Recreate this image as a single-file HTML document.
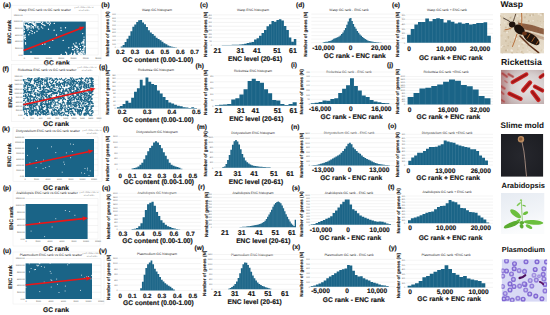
<!DOCTYPE html>
<html><head><meta charset="utf-8"><style>
html,body{margin:0;padding:0;background:#fff;}
svg{display:block;font-family:"Liberation Sans", sans-serif;text-rendering:geometricPrecision;}
</style></head><body>
<svg xmlns="http://www.w3.org/2000/svg" width="550" height="315" viewBox="0 0 550 315">
<rect width="550" height="315" fill="#fff"/>
<rect x="11.4" y="5.2" width="89.6" height="55.099999999999994" fill="none" stroke="#ececec" stroke-width="0.5"/>
<text x="2.90" y="7.00" font-size="6.5" font-weight="bold" text-anchor="start" fill="#111" stroke="#111" stroke-width="0.14">(a)</text>
<text x="44.70" y="10.50" font-size="3.35" font-weight="normal" text-anchor="middle" fill="#333">Wasp ENC rank vs GC rank scatter</text>
<text x="84.00" y="8.20" font-size="2.0" font-weight="normal" text-anchor="middle" fill="#777">y = 0.7026x + 2857.4</text>
<text x="84.00" y="10.80" font-size="2.0" font-weight="normal" text-anchor="middle" fill="#777">R² = 0.4365</text>
<g stroke="#e4e4e4" stroke-width="0.4"><line x1="23.60" y1="14.70" x2="98.20" y2="14.70"/><line x1="23.60" y1="21.42" x2="98.20" y2="21.42"/><line x1="23.60" y1="28.13" x2="98.20" y2="28.13"/><line x1="23.60" y1="34.85" x2="98.20" y2="34.85"/><line x1="23.60" y1="41.57" x2="98.20" y2="41.57"/><line x1="23.60" y1="48.28" x2="98.20" y2="48.28"/><line x1="23.60" y1="55.00" x2="98.20" y2="55.00"/></g>
<text x="22.80" y="15.50" font-size="2.2" font-weight="normal" text-anchor="end" fill="#555555">12000.00</text>
<text x="22.80" y="22.22" font-size="2.2" font-weight="normal" text-anchor="end" fill="#555555">10000.00</text>
<text x="22.80" y="28.93" font-size="2.2" font-weight="normal" text-anchor="end" fill="#555555">8000.00</text>
<text x="22.80" y="35.65" font-size="2.2" font-weight="normal" text-anchor="end" fill="#555555">6000.00</text>
<text x="22.80" y="42.37" font-size="2.2" font-weight="normal" text-anchor="end" fill="#555555">4000.00</text>
<text x="22.80" y="49.08" font-size="2.2" font-weight="normal" text-anchor="end" fill="#555555">2000.00</text>
<text x="22.80" y="55.80" font-size="2.2" font-weight="normal" text-anchor="end" fill="#555555">0.00</text>
<line x1="98.2" y1="14.7" x2="98.2" y2="55" stroke="#e4e4e4" stroke-width="0.4"/>
<text x="24.30" y="58.60" font-size="2.2" font-weight="normal" text-anchor="middle" fill="#555555">0</text>
<text x="36.60" y="58.60" font-size="2.2" font-weight="normal" text-anchor="middle" fill="#555555">5000</text>
<text x="48.90" y="58.60" font-size="2.2" font-weight="normal" text-anchor="middle" fill="#555555">10000</text>
<text x="61.20" y="58.60" font-size="2.2" font-weight="normal" text-anchor="middle" fill="#555555">15000</text>
<text x="73.50" y="58.60" font-size="2.2" font-weight="normal" text-anchor="middle" fill="#555555">20000</text>
<text x="85.80" y="58.60" font-size="2.2" font-weight="normal" text-anchor="middle" fill="#555555">25000</text>
<text x="98.20" y="58.60" font-size="2.2" font-weight="normal" text-anchor="middle" fill="#555555">30000</text>
<rect x="23.6" y="21.6" width="62.199999999999996" height="33.4" fill="#1a6487"/>
<path d="M24.0 22.3h0M25.3 22.1h0M26.5 21.9h0M27.4 22.0h0M28.9 22.0h0M30.0 22.4h0M31.0 22.4h0M32.4 22.1h0M33.2 22.1h0M35.7 22.2h0M36.8 22.0h0M37.8 22.3h0M39.0 22.2h0M40.2 22.3h0M42.6 22.2h0M46.3 22.0h0M49.5 21.9h0M24.1 23.3h0M28.7 23.3h0M32.1 23.2h0M33.4 23.4h0M34.3 23.3h0M35.7 23.6h0M41.6 23.5h0M47.2 23.1h0M48.2 23.2h0M50.4 23.2h0M54.3 23.4h0M24.3 24.5h0M26.3 24.6h0M33.4 24.4h0M34.3 24.4h0M35.8 24.7h0M42.4 24.3h0M43.8 24.7h0M49.6 24.7h0M25.2 25.5h0M26.5 25.5h0M27.4 25.8h0M28.8 25.7h0M31.3 25.6h0M34.5 25.5h0M35.8 25.5h0M44.9 25.5h0M26.7 26.7h0M27.9 26.9h0M28.7 26.8h0M29.8 26.7h0M32.3 26.7h0M33.3 26.8h0M35.9 26.9h0M37.9 26.5h0M41.4 27.0h0M23.9 28.0h0M26.5 28.1h0M27.8 27.9h0M31.1 28.0h0M33.5 28.0h0M37.8 27.7h0M42.7 28.1h0M60.9 27.9h0M65.5 27.7h0M24.3 29.3h0M28.8 29.1h0M38.9 29.0h0M48.5 29.2h0M27.8 30.1h0M31.1 30.4h0M54.1 30.2h0M61.1 30.4h0M24.4 31.6h0M32.3 31.4h0M37.0 31.2h0M24.0 32.5h0M29.7 32.6h0M34.5 32.7h0M32.1 33.6h0M82.7 33.6h0M25.3 35.0h0M28.8 34.8h0M56.5 35.0h0M24.0 35.7h0M24.3 37.3h0M25.4 37.2h0M84.0 37.1h0M24.1 38.3h0M25.3 39.2h0M84.0 39.5h0M52.7 40.4h0M63.2 40.4h0M84.0 40.6h0M83.0 41.5h0M83.8 41.8h0M25.5 42.8h0M76.1 43.0h0M81.5 43.0h0M82.7 42.8h0M83.9 42.8h0M25.6 44.0h0M42.4 44.2h0M44.9 44.0h0M73.5 43.9h0M79.4 44.0h0M83.9 43.9h0M74.8 45.1h0M82.9 45.4h0M75.0 46.3h0M75.8 46.3h0M77.0 46.3h0M80.4 46.4h0M84.1 46.3h0M84.9 46.5h0M49.6 47.4h0M68.8 47.7h0M72.3 47.3h0M76.1 47.6h0M77.3 47.5h0M84.1 47.5h0M74.7 48.6h0M78.4 48.6h0M80.5 48.9h0M83.9 48.5h0M72.5 49.5h0M73.8 49.8h0M77.0 49.8h0M80.5 49.6h0M82.7 49.5h0M84.1 49.6h0M78.0 51.2h0M81.7 51.2h0M83.9 50.9h0M31.0 52.0h0M65.7 52.2h0M74.6 51.9h0M77.1 52.0h0M78.0 51.8h0M80.3 52.1h0M82.9 52.0h0M83.7 51.8h0M66.6 53.2h0M71.5 53.3h0M74.6 53.4h0M78.3 53.4h0M79.3 53.1h0M80.5 53.1h0M81.5 53.3h0M82.9 53.1h0M84.2 53.1h0M61.2 54.5h0M66.7 54.6h0M70.1 54.6h0M71.4 54.3h0M73.8 54.3h0M74.5 54.5h0M75.8 54.3h0M78.3 54.2h0M79.5 54.5h0M80.3 54.2h0M81.7 54.3h0M82.9 54.5h0M85.0 54.2h0" stroke="#fff" stroke-width="1.36" stroke-linecap="round" fill="none"/>
<line x1="23.60" y1="50.40" x2="79.75" y2="28.68" stroke="#ee1515" stroke-width="1.6"/>
<polygon fill="#ee1515" points="84.60,26.80 80.51,30.63 78.99,26.72"/>
<text transform="translate(9.10,31.80) rotate(-90)" font-size="5.2" font-weight="bold" text-anchor="middle" fill="#222" stroke="#222" stroke-width="0.12" dy="1.82">ENC rank</text>
<text x="56.80" y="64.90" font-size="6.7" font-weight="bold" text-anchor="middle" fill="#111" stroke="#111" stroke-width="0.14">GC rank</text>
<text x="101.30" y="7.10" font-size="6.5" font-weight="bold" text-anchor="start" fill="#111" stroke="#111" stroke-width="0.14">(b)</text>
<text x="157.00" y="11.00" font-size="3.35" font-weight="normal" text-anchor="middle" fill="#333">Wasp GC histogram</text>
<g stroke="#e4e4e4" stroke-width="0.4"><line x1="116.70" y1="14.30" x2="201.00" y2="14.30"/><line x1="116.70" y1="17.98" x2="201.00" y2="17.98"/><line x1="116.70" y1="21.66" x2="201.00" y2="21.66"/><line x1="116.70" y1="25.33" x2="201.00" y2="25.33"/><line x1="116.70" y1="29.01" x2="201.00" y2="29.01"/><line x1="116.70" y1="32.69" x2="201.00" y2="32.69"/><line x1="116.70" y1="36.37" x2="201.00" y2="36.37"/><line x1="116.70" y1="40.04" x2="201.00" y2="40.04"/><line x1="116.70" y1="43.72" x2="201.00" y2="43.72"/><line x1="116.70" y1="47.40" x2="201.00" y2="47.40"/></g>
<text x="115.80" y="15.10" font-size="2.1" font-weight="normal" text-anchor="end" fill="#555555">900</text>
<text x="115.80" y="18.78" font-size="2.1" font-weight="normal" text-anchor="end" fill="#555555">800</text>
<text x="115.80" y="22.46" font-size="2.1" font-weight="normal" text-anchor="end" fill="#555555">700</text>
<text x="115.80" y="26.13" font-size="2.1" font-weight="normal" text-anchor="end" fill="#555555">600</text>
<text x="115.80" y="29.81" font-size="2.1" font-weight="normal" text-anchor="end" fill="#555555">500</text>
<text x="115.80" y="33.49" font-size="2.1" font-weight="normal" text-anchor="end" fill="#555555">400</text>
<text x="115.80" y="37.17" font-size="2.1" font-weight="normal" text-anchor="end" fill="#555555">300</text>
<text x="115.80" y="40.84" font-size="2.1" font-weight="normal" text-anchor="end" fill="#555555">200</text>
<text x="115.80" y="44.52" font-size="2.1" font-weight="normal" text-anchor="end" fill="#555555">100</text>
<text x="115.80" y="48.20" font-size="2.1" font-weight="normal" text-anchor="end" fill="#555555">0</text>
<path d="M120.70,47.40V46.59H122.64V44.91H124.59V42.01H126.53V38.87H128.47V35.64H130.42V31.28H132.36V26.84H134.30V24.50H136.25V21.95H138.19V20.20H140.13V20.11H142.08V22.47H144.02V24.28H145.96V27.02H147.91V30.17H149.85V32.42H151.79V33.90H153.74V35.71H155.68V37.65H157.62V39.09H159.57V40.33H161.51V41.65H163.45V43.16H165.40V44.32H167.34V45.54H169.28V46.28H171.23V46.87H173.17V47.09H175.11V47.30H177.06V47.40H179.00V47.40Z" fill="#1a6487"/>
<path d="M122.64,46.59V47.40M124.59,44.91V47.40M126.53,42.01V47.40M128.47,38.87V47.40M130.42,35.64V47.40M132.36,31.28V47.40M134.30,26.84V47.40M136.25,24.50V47.40M138.19,21.95V47.40M140.13,20.20V47.40M142.08,22.47V47.40M144.02,24.28V47.40M145.96,27.02V47.40M147.91,30.17V47.40M149.85,32.42V47.40M151.79,33.90V47.40M153.74,35.71V47.40M155.68,37.65V47.40M157.62,39.09V47.40M159.57,40.33V47.40M161.51,41.65V47.40M163.45,43.16V47.40M165.40,44.32V47.40M167.34,45.54V47.40M169.28,46.28V47.40M171.23,46.87V47.40M173.17,47.09V47.40M175.11,47.30V47.40M177.06,47.40V47.40" stroke="#fff" stroke-width="0.3" stroke-opacity="0.3"/>
<text x="120.40" y="54.12" font-size="6.2" font-weight="bold" text-anchor="middle" fill="#111" stroke="#111" stroke-width="0.14">0.2</text>
<text x="135.00" y="54.12" font-size="6.2" font-weight="bold" text-anchor="middle" fill="#111" stroke="#111" stroke-width="0.14">0.3</text>
<text x="149.70" y="54.12" font-size="6.2" font-weight="bold" text-anchor="middle" fill="#111" stroke="#111" stroke-width="0.14">0.4</text>
<text x="164.90" y="54.12" font-size="6.2" font-weight="bold" text-anchor="middle" fill="#111" stroke="#111" stroke-width="0.14">0.5</text>
<text x="180.40" y="54.12" font-size="6.2" font-weight="bold" text-anchor="middle" fill="#111" stroke="#111" stroke-width="0.14">0.6</text>
<text x="194.60" y="54.12" font-size="6.2" font-weight="bold" text-anchor="middle" fill="#111" stroke="#111" stroke-width="0.14">0.7</text>
<text x="157.90" y="61.70" font-size="6.7" font-weight="bold" text-anchor="middle" fill="#111" stroke="#111" stroke-width="0.14">GC content (0.00-1.00)</text>
<text transform="translate(107.20,33.95) rotate(-90)" font-size="4.6" font-weight="bold" text-anchor="middle" fill="#222" stroke="#222" stroke-width="0.12" dy="1.61">Number of genes (N)</text>
<text x="200.00" y="7.20" font-size="6.5" font-weight="bold" text-anchor="start" fill="#111" stroke="#111" stroke-width="0.14">(c)</text>
<text x="253.00" y="11.00" font-size="3.35" font-weight="normal" text-anchor="middle" fill="#333">Wasp ENC histogram</text>
<g stroke="#e4e4e4" stroke-width="0.4"><line x1="212.80" y1="14.90" x2="300.00" y2="14.90"/><line x1="212.80" y1="18.69" x2="300.00" y2="18.69"/><line x1="212.80" y1="22.48" x2="300.00" y2="22.48"/><line x1="212.80" y1="26.26" x2="300.00" y2="26.26"/><line x1="212.80" y1="30.05" x2="300.00" y2="30.05"/><line x1="212.80" y1="33.84" x2="300.00" y2="33.84"/><line x1="212.80" y1="37.62" x2="300.00" y2="37.62"/><line x1="212.80" y1="41.41" x2="300.00" y2="41.41"/><line x1="212.80" y1="45.20" x2="300.00" y2="45.20"/></g>
<text x="211.90" y="15.70" font-size="2.1" font-weight="normal" text-anchor="end" fill="#555555">400</text>
<text x="211.90" y="19.49" font-size="2.1" font-weight="normal" text-anchor="end" fill="#555555">350</text>
<text x="211.90" y="23.28" font-size="2.1" font-weight="normal" text-anchor="end" fill="#555555">300</text>
<text x="211.90" y="27.06" font-size="2.1" font-weight="normal" text-anchor="end" fill="#555555">250</text>
<text x="211.90" y="30.85" font-size="2.1" font-weight="normal" text-anchor="end" fill="#555555">200</text>
<text x="211.90" y="34.64" font-size="2.1" font-weight="normal" text-anchor="end" fill="#555555">150</text>
<text x="211.90" y="38.42" font-size="2.1" font-weight="normal" text-anchor="end" fill="#555555">100</text>
<text x="211.90" y="42.21" font-size="2.1" font-weight="normal" text-anchor="end" fill="#555555">50</text>
<text x="211.90" y="46.00" font-size="2.1" font-weight="normal" text-anchor="end" fill="#555555">0</text>
<path d="M221.80,45.20V45.07H224.28V45.02H226.77V44.96H229.25V44.91H231.73V44.85H234.22V44.80H236.70V44.74H239.18V44.60H241.67V44.19H244.15V43.70H246.63V42.97H249.12V42.45H251.60V42.04H254.08V39.49H256.57V38.20H259.05V35.70H261.53V32.88H264.02V29.99H266.50V26.30H268.98V24.34H271.47V21.11H273.95V21.87H276.43V20.03H278.92V19.18H281.40V20.53H283.88V25.95H286.37V30.01H288.85V37.42H291.33V41.80H293.82V39.10H296.30V45.20Z" fill="#1a6487"/>
<path d="M224.28,45.07V45.20M226.77,45.02V45.20M229.25,44.96V45.20M231.73,44.91V45.20M234.22,44.85V45.20M236.70,44.80V45.20M239.18,44.74V45.20M241.67,44.60V45.20M244.15,44.19V45.20M246.63,43.70V45.20M249.12,42.97V45.20M251.60,42.45V45.20M254.08,42.04V45.20M256.57,39.49V45.20M259.05,38.20V45.20M261.53,35.70V45.20M264.02,32.88V45.20M266.50,29.99V45.20M268.98,26.30V45.20M271.47,24.34V45.20M273.95,21.87V45.20M276.43,21.87V45.20M278.92,20.03V45.20M281.40,20.53V45.20M283.88,25.95V45.20M286.37,30.01V45.20M288.85,37.42V45.20M291.33,41.80V45.20M293.82,41.80V45.20" stroke="#fff" stroke-width="0.3" stroke-opacity="0.3"/>
<text x="217.50" y="52.91" font-size="7.0" font-weight="bold" text-anchor="middle" fill="#111" stroke="#111" stroke-width="0.14">21</text>
<text x="240.40" y="52.91" font-size="7.0" font-weight="bold" text-anchor="middle" fill="#111" stroke="#111" stroke-width="0.14">31</text>
<text x="256.90" y="52.91" font-size="7.0" font-weight="bold" text-anchor="middle" fill="#111" stroke="#111" stroke-width="0.14">41</text>
<text x="277.10" y="52.91" font-size="7.0" font-weight="bold" text-anchor="middle" fill="#111" stroke="#111" stroke-width="0.14">51</text>
<text x="293.00" y="52.91" font-size="7.0" font-weight="bold" text-anchor="middle" fill="#111" stroke="#111" stroke-width="0.14">61</text>
<text x="255.10" y="60.70" font-size="6.7" font-weight="bold" text-anchor="middle" fill="#111" stroke="#111" stroke-width="0.14">ENC level (20-61)</text>
<text transform="translate(205.00,34.30) rotate(-90)" font-size="4.6" font-weight="bold" text-anchor="middle" fill="#222" stroke="#222" stroke-width="0.12" dy="1.61">Number of genes (N)</text>
<text x="296.00" y="6.90" font-size="6.5" font-weight="bold" text-anchor="start" fill="#111" stroke="#111" stroke-width="0.14">(d)</text>
<text x="349.00" y="11.00" font-size="3.35" font-weight="normal" text-anchor="middle" fill="#333">Wasp GC rank - ENC rank</text>
<g stroke="#e4e4e4" stroke-width="0.4"><line x1="311.30" y1="14.10" x2="404.00" y2="14.10"/><line x1="311.30" y1="17.68" x2="404.00" y2="17.68"/><line x1="311.30" y1="21.25" x2="404.00" y2="21.25"/><line x1="311.30" y1="24.83" x2="404.00" y2="24.83"/><line x1="311.30" y1="28.40" x2="404.00" y2="28.40"/><line x1="311.30" y1="31.98" x2="404.00" y2="31.98"/><line x1="311.30" y1="35.55" x2="404.00" y2="35.55"/><line x1="311.30" y1="39.12" x2="404.00" y2="39.12"/><line x1="311.30" y1="42.70" x2="404.00" y2="42.70"/></g>
<text x="310.40" y="14.90" font-size="2.1" font-weight="normal" text-anchor="end" fill="#555555"></text>
<text x="310.40" y="18.48" font-size="2.1" font-weight="normal" text-anchor="end" fill="#555555"></text>
<text x="310.40" y="22.05" font-size="2.1" font-weight="normal" text-anchor="end" fill="#555555"></text>
<text x="310.40" y="25.63" font-size="2.1" font-weight="normal" text-anchor="end" fill="#555555"></text>
<text x="310.40" y="29.20" font-size="2.1" font-weight="normal" text-anchor="end" fill="#555555"></text>
<text x="310.40" y="32.77" font-size="2.1" font-weight="normal" text-anchor="end" fill="#555555"></text>
<text x="310.40" y="36.35" font-size="2.1" font-weight="normal" text-anchor="end" fill="#555555"></text>
<text x="310.40" y="39.92" font-size="2.1" font-weight="normal" text-anchor="end" fill="#555555"></text>
<text x="310.40" y="43.50" font-size="2.1" font-weight="normal" text-anchor="end" fill="#555555"></text>
<path d="M322.70,42.70V42.29H324.01V42.08H325.32V41.87H326.63V41.65H327.94V41.36H329.24V41.04H330.55V40.59H331.86V39.72H333.17V38.85H334.48V38.29H335.79V37.85H337.10V37.33H338.41V36.48H339.72V35.62H341.02V34.11H342.33V32.38H343.64V30.23H344.95V27.99H346.26V24.83H347.57V21.53H348.88V18.39H350.19V18.02H351.50V20.92H352.80V24.05H354.11V26.68H355.42V28.82H356.73V30.92H358.04V32.86H359.35V34.59H360.66V35.84H361.97V36.99H363.28V38.02H364.58V39.05H365.89V39.74H367.20V40.42H368.51V40.93H369.82V41.22H371.13V41.51H372.44V41.81H373.75V41.98H375.06V42.09H376.36V42.20H377.67V42.32H378.98V42.43H380.29V42.54H381.60V42.70Z" fill="#1a6487"/>
<path d="M324.01,42.29V42.70M325.32,42.08V42.70M326.63,41.87V42.70M327.94,41.65V42.70M329.24,41.36V42.70M330.55,41.04V42.70M331.86,40.59V42.70M333.17,39.72V42.70M334.48,38.85V42.70M335.79,38.29V42.70M337.10,37.85V42.70M338.41,37.33V42.70M339.72,36.48V42.70M341.02,35.62V42.70M342.33,34.11V42.70M343.64,32.38V42.70M344.95,30.23V42.70M346.26,27.99V42.70M347.57,24.83V42.70M348.88,21.53V42.70M350.19,18.39V42.70M351.50,20.92V42.70M352.80,24.05V42.70M354.11,26.68V42.70M355.42,28.82V42.70M356.73,30.92V42.70M358.04,32.86V42.70M359.35,34.59V42.70M360.66,35.84V42.70M361.97,36.99V42.70M363.28,38.02V42.70M364.58,39.05V42.70M365.89,39.74V42.70M367.20,40.42V42.70M368.51,40.93V42.70M369.82,41.22V42.70M371.13,41.51V42.70M372.44,41.81V42.70M373.75,41.98V42.70M375.06,42.09V42.70M376.36,42.20V42.70M377.67,42.32V42.70M378.98,42.43V42.70M380.29,42.54V42.70" stroke="#fff" stroke-width="0.3" stroke-opacity="0.3"/>
<text x="323.40" y="49.76" font-size="6.6" font-weight="bold" text-anchor="middle" fill="#111" stroke="#111" stroke-width="0.14">-10,000</text>
<text x="350.50" y="49.76" font-size="6.6" font-weight="bold" text-anchor="middle" fill="#111" stroke="#111" stroke-width="0.14">0</text>
<text x="381.10" y="49.76" font-size="6.6" font-weight="bold" text-anchor="middle" fill="#111" stroke="#111" stroke-width="0.14">20,000</text>
<text x="354.80" y="57.60" font-size="6.7" font-weight="bold" text-anchor="middle" fill="#111" stroke="#111" stroke-width="0.14">GC rank - ENC rank</text>
<text transform="translate(304.90,34.25) rotate(-90)" font-size="4.6" font-weight="bold" text-anchor="middle" fill="#222" stroke="#222" stroke-width="0.12" dy="1.61">Number of genes (N)</text>
<text x="392.00" y="7.00" font-size="6.5" font-weight="bold" text-anchor="start" fill="#111" stroke="#111" stroke-width="0.14">(e)</text>
<text x="447.00" y="11.00" font-size="3.35" font-weight="normal" text-anchor="middle" fill="#333">Wasp GC rank + ENC rank</text>
<g stroke="#e4e4e4" stroke-width="0.4"><line x1="406.00" y1="14.80" x2="493.00" y2="14.80"/><line x1="406.00" y1="19.45" x2="493.00" y2="19.45"/><line x1="406.00" y1="24.10" x2="493.00" y2="24.10"/><line x1="406.00" y1="28.75" x2="493.00" y2="28.75"/><line x1="406.00" y1="33.40" x2="493.00" y2="33.40"/><line x1="406.00" y1="38.05" x2="493.00" y2="38.05"/><line x1="406.00" y1="42.70" x2="493.00" y2="42.70"/></g>
<text x="405.10" y="15.60" font-size="2.1" font-weight="normal" text-anchor="end" fill="#555555">600</text>
<text x="405.10" y="20.25" font-size="2.1" font-weight="normal" text-anchor="end" fill="#555555">500</text>
<text x="405.10" y="24.90" font-size="2.1" font-weight="normal" text-anchor="end" fill="#555555">400</text>
<text x="405.10" y="29.55" font-size="2.1" font-weight="normal" text-anchor="end" fill="#555555">300</text>
<text x="405.10" y="34.20" font-size="2.1" font-weight="normal" text-anchor="end" fill="#555555">200</text>
<text x="405.10" y="38.85" font-size="2.1" font-weight="normal" text-anchor="end" fill="#555555">100</text>
<text x="405.10" y="43.50" font-size="2.1" font-weight="normal" text-anchor="end" fill="#555555">0</text>
<path d="M407.10,42.70V34.80H410.74V29.00H414.38V24.60H418.02V22.00H421.66V22.00H425.30V18.60H428.94V21.20H432.58V19.10H436.22V18.30H439.86V19.10H443.50V22.50H447.14V20.30H450.78V21.70H454.42V23.40H458.06V22.50H461.70V23.70H465.34V22.90H468.98V24.60H472.62V23.90H476.26V23.00H479.90V23.00H483.54V22.20H487.18V35.70H490.82V42.70Z" fill="#1a6487"/>
<path d="M410.74,34.80V42.70M414.38,29.00V42.70M418.02,24.60V42.70M421.66,22.00V42.70M425.30,22.00V42.70M428.94,21.20V42.70M432.58,21.20V42.70M436.22,19.10V42.70M439.86,19.10V42.70M443.50,22.50V42.70M447.14,22.50V42.70M450.78,21.70V42.70M454.42,23.40V42.70M458.06,23.40V42.70M461.70,23.70V42.70M465.34,23.70V42.70M468.98,24.60V42.70M472.62,24.60V42.70M476.26,23.90V42.70M479.90,23.00V42.70M483.54,23.00V42.70M487.18,35.70V42.70" stroke="#fff" stroke-width="0.3" stroke-opacity="0.3"/>
<text x="409.20" y="50.56" font-size="6.6" font-weight="bold" text-anchor="middle" fill="#111" stroke="#111" stroke-width="0.14">0</text>
<text x="446.40" y="50.56" font-size="6.6" font-weight="bold" text-anchor="middle" fill="#111" stroke="#111" stroke-width="0.14">10,000</text>
<text x="480.10" y="50.56" font-size="6.6" font-weight="bold" text-anchor="middle" fill="#111" stroke="#111" stroke-width="0.14">20,000</text>
<text x="450.80" y="59.50" font-size="6.7" font-weight="bold" text-anchor="middle" fill="#111" stroke="#111" stroke-width="0.14">GC rank + ENC rank</text>
<text transform="translate(397.20,34.30) rotate(-90)" font-size="4.6" font-weight="bold" text-anchor="middle" fill="#222" stroke="#222" stroke-width="0.12" dy="1.61">Number of genes (N)</text>
<rect x="11.4" y="64.5" width="88.6" height="57.0" fill="none" stroke="#ececec" stroke-width="0.5"/>
<text x="2.40" y="70.60" font-size="6.5" font-weight="bold" text-anchor="start" fill="#111" stroke="#111" stroke-width="0.14">(f)</text>
<text x="47.00" y="71.00" font-size="3.35" font-weight="normal" text-anchor="middle" fill="#333">Rickettsia ENC rank vs GC rank scatter</text>
<text x="87.00" y="68.40" font-size="2.0" font-weight="normal" text-anchor="middle" fill="#777">y = 0.7026x + 2857.4</text>
<text x="87.00" y="71.00" font-size="2.0" font-weight="normal" text-anchor="middle" fill="#777">R² = 0.4365</text>
<g stroke="#e4e4e4" stroke-width="0.4"><line x1="23.30" y1="75.80" x2="98.50" y2="75.80"/><line x1="23.30" y1="80.16" x2="98.50" y2="80.16"/><line x1="23.30" y1="84.51" x2="98.50" y2="84.51"/><line x1="23.30" y1="88.87" x2="98.50" y2="88.87"/><line x1="23.30" y1="93.22" x2="98.50" y2="93.22"/><line x1="23.30" y1="97.58" x2="98.50" y2="97.58"/><line x1="23.30" y1="101.93" x2="98.50" y2="101.93"/><line x1="23.30" y1="106.29" x2="98.50" y2="106.29"/><line x1="23.30" y1="110.64" x2="98.50" y2="110.64"/><line x1="23.30" y1="115.00" x2="98.50" y2="115.00"/></g>
<text x="22.50" y="76.60" font-size="2.2" font-weight="normal" text-anchor="end" fill="#555555">1800.00</text>
<text x="22.50" y="80.96" font-size="2.2" font-weight="normal" text-anchor="end" fill="#555555">1600.00</text>
<text x="22.50" y="85.31" font-size="2.2" font-weight="normal" text-anchor="end" fill="#555555">1400.00</text>
<text x="22.50" y="89.67" font-size="2.2" font-weight="normal" text-anchor="end" fill="#555555">1200.00</text>
<text x="22.50" y="94.02" font-size="2.2" font-weight="normal" text-anchor="end" fill="#555555">1000.00</text>
<text x="22.50" y="98.38" font-size="2.2" font-weight="normal" text-anchor="end" fill="#555555">800.00</text>
<text x="22.50" y="102.73" font-size="2.2" font-weight="normal" text-anchor="end" fill="#555555">600.00</text>
<text x="22.50" y="107.09" font-size="2.2" font-weight="normal" text-anchor="end" fill="#555555">400.00</text>
<text x="22.50" y="111.44" font-size="2.2" font-weight="normal" text-anchor="end" fill="#555555">200.00</text>
<text x="22.50" y="115.80" font-size="2.2" font-weight="normal" text-anchor="end" fill="#555555">0.00</text>
<line x1="98.5" y1="75.8" x2="98.5" y2="115" stroke="#e4e4e4" stroke-width="0.4"/>
<text x="23.90" y="119.00" font-size="2.2" font-weight="normal" text-anchor="middle" fill="#555555">0</text>
<text x="32.20" y="119.00" font-size="2.2" font-weight="normal" text-anchor="middle" fill="#555555">200</text>
<text x="40.60" y="119.00" font-size="2.2" font-weight="normal" text-anchor="middle" fill="#555555">400</text>
<text x="49.00" y="119.00" font-size="2.2" font-weight="normal" text-anchor="middle" fill="#555555">600</text>
<text x="57.30" y="119.00" font-size="2.2" font-weight="normal" text-anchor="middle" fill="#555555">800</text>
<text x="65.70" y="119.00" font-size="2.2" font-weight="normal" text-anchor="middle" fill="#555555">1000</text>
<text x="74.00" y="119.00" font-size="2.2" font-weight="normal" text-anchor="middle" fill="#555555">1200</text>
<text x="82.40" y="119.00" font-size="2.2" font-weight="normal" text-anchor="middle" fill="#555555">1400</text>
<text x="90.70" y="119.00" font-size="2.2" font-weight="normal" text-anchor="middle" fill="#555555">1600</text>
<text x="99.00" y="119.00" font-size="2.2" font-weight="normal" text-anchor="middle" fill="#555555">1800</text>
<path d="M74.8 93.3h0M27.2 108.4h0M82.5 110.4h0M24.4 112.1h0M84.6 88.0h0M81.8 91.8h0M49.4 100.3h0M59.8 94.7h0M31.8 104.8h0M84.1 90.0h0M50.1 106.2h0M84.7 113.8h0M59.4 97.9h0M24.8 114.3h0M36.1 81.9h0M80.7 79.1h0M72.4 85.3h0M65.4 99.6h0M72.7 81.9h0M73.7 79.7h0M58.0 96.8h0M31.9 93.2h0M64.9 110.3h0M63.6 106.0h0M81.4 113.2h0M52.9 109.5h0M51.1 113.3h0M47.1 87.0h0M53.9 114.8h0M87.5 108.6h0M27.1 97.4h0M89.0 87.3h0M67.8 91.7h0M28.2 94.2h0M24.8 83.2h0M77.9 113.1h0M80.2 111.2h0M25.7 102.1h0M71.0 88.3h0M88.3 101.3h0M59.9 94.3h0M43.5 89.5h0M31.8 100.3h0M59.4 88.1h0M60.8 83.6h0M32.5 89.0h0M43.6 87.1h0M61.7 109.5h0M63.4 102.4h0M73.2 95.3h0M66.4 95.6h0M40.3 86.3h0M50.2 100.0h0M48.1 110.3h0M62.4 96.4h0M92.7 89.1h0M34.4 80.5h0M54.2 80.3h0M54.2 105.6h0M39.1 114.0h0M34.2 90.6h0M70.8 101.1h0M81.0 97.4h0M75.6 106.5h0M78.5 104.6h0M32.2 110.7h0M77.1 100.0h0M91.0 99.4h0M78.4 110.7h0M50.0 95.0h0M74.1 89.0h0M62.3 92.4h0M78.6 109.9h0M54.5 84.9h0M33.5 99.6h0M29.5 112.5h0M82.6 109.4h0M37.7 94.0h0M24.1 79.8h0M58.3 112.5h0M61.2 115.4h0M59.7 103.7h0M48.4 100.3h0M89.9 103.4h0M30.3 92.0h0M62.8 99.5h0M91.1 96.3h0M67.2 115.4h0M60.6 108.6h0M45.7 114.7h0M59.3 82.1h0M71.8 108.8h0M85.7 93.8h0M43.7 97.2h0M36.5 84.8h0M65.7 91.2h0M68.0 79.6h0M78.7 89.5h0M23.6 89.4h0M64.5 103.1h0M58.3 98.7h0M68.8 97.9h0M63.7 93.4h0M34.3 106.5h0M30.3 84.4h0M81.2 101.0h0M27.7 78.5h0M46.0 104.8h0M35.2 88.0h0M86.8 99.8h0M54.9 92.5h0M85.9 99.8h0M54.2 101.3h0M26.4 112.9h0M45.4 111.7h0M44.6 100.6h0M58.1 113.6h0M50.7 104.9h0M45.0 110.8h0M79.0 87.1h0M48.5 85.0h0M43.7 99.1h0M60.8 92.5h0M27.9 82.6h0M48.0 87.2h0M43.2 86.9h0M70.0 90.8h0M72.9 81.5h0M82.0 82.8h0M82.1 108.2h0M48.1 105.1h0M90.7 85.8h0M58.8 86.5h0M32.5 104.5h0M86.5 100.0h0M40.6 100.8h0M84.6 82.6h0M61.4 88.1h0M50.4 102.7h0M45.1 92.6h0M35.7 109.9h0M69.9 82.1h0M48.7 96.8h0M27.9 89.7h0M32.2 104.9h0M51.7 112.1h0M85.4 110.3h0M42.7 79.1h0M70.0 91.2h0M69.6 104.2h0M82.8 91.2h0M36.1 82.3h0M74.9 104.7h0M26.1 84.1h0M44.6 92.3h0M45.2 101.9h0M82.3 99.4h0M41.2 94.3h0M47.8 78.0h0M77.9 88.7h0M83.3 100.8h0M40.5 82.2h0M38.1 112.3h0M29.4 104.1h0M75.9 109.1h0M29.6 113.5h0M88.7 103.9h0M81.6 101.6h0M27.1 104.2h0M59.3 112.8h0M76.9 79.6h0M79.9 87.8h0M91.4 101.9h0M40.9 80.2h0M52.2 85.6h0M32.9 104.5h0M40.0 87.1h0M54.6 113.1h0M44.3 111.2h0M62.9 90.5h0M61.8 106.5h0M70.2 100.5h0M77.2 109.2h0M43.6 91.5h0M27.5 88.5h0M72.6 94.8h0M46.1 95.6h0M35.1 80.7h0M93.0 106.1h0M73.7 114.8h0M30.9 96.3h0M36.6 98.4h0M87.9 102.2h0M89.0 102.5h0M40.6 83.2h0M77.7 109.5h0M36.4 101.9h0M88.4 84.3h0M81.7 105.8h0M36.3 108.9h0M49.2 98.7h0M81.7 87.0h0M63.2 101.6h0M72.9 111.9h0M58.1 96.7h0M44.4 99.8h0M71.7 84.1h0M91.5 81.4h0M54.2 85.2h0M23.5 109.5h0M78.6 94.0h0M69.8 97.3h0M47.1 94.5h0M81.4 111.9h0M44.1 94.6h0M47.8 85.3h0M46.1 95.3h0M87.2 110.5h0M90.9 101.2h0M27.5 103.4h0M44.2 99.4h0M57.1 102.3h0M47.4 111.2h0M36.6 103.5h0M29.3 102.8h0M64.1 93.6h0M63.0 92.9h0M36.0 111.4h0M31.2 110.3h0M30.0 97.9h0M57.7 98.8h0M63.6 82.2h0M64.7 81.0h0M28.5 94.5h0M62.0 104.8h0M31.4 115.1h0M30.5 109.1h0M35.3 114.0h0M77.8 83.1h0M27.3 86.9h0M24.4 100.3h0M44.4 104.5h0M85.8 101.3h0M62.9 112.4h0M35.1 106.0h0M77.0 103.5h0M31.9 92.0h0M89.9 105.1h0M65.7 81.7h0M79.8 82.2h0M70.8 87.5h0M54.7 109.4h0M31.3 78.8h0M79.6 84.9h0M43.7 103.8h0M33.4 110.8h0M71.8 108.3h0M24.3 90.8h0M58.6 110.7h0M25.8 84.8h0M71.1 92.7h0M34.4 109.7h0M84.7 100.9h0M46.4 86.1h0M64.7 79.6h0M48.7 95.5h0M50.6 91.3h0M64.0 90.5h0M55.6 115.0h0M33.6 103.2h0M42.5 96.8h0M63.3 97.8h0M93.1 79.3h0M77.5 110.7h0M67.8 101.8h0M43.1 107.8h0M89.3 103.6h0M77.0 105.7h0M68.0 91.1h0M51.8 80.3h0M46.0 115.1h0M49.1 87.1h0M47.9 83.1h0M84.5 95.0h0M63.3 89.3h0M28.0 89.3h0M74.4 98.7h0M47.2 112.5h0M28.9 84.7h0M92.7 91.4h0M53.4 110.6h0M57.4 111.7h0M41.4 78.9h0M42.1 104.4h0M51.4 85.5h0M84.0 102.3h0M74.9 114.1h0M28.9 108.4h0M47.3 83.1h0M61.0 110.8h0M88.2 86.0h0M76.0 102.3h0M71.0 90.7h0M52.4 79.7h0M46.8 96.5h0M41.4 95.4h0M88.3 99.2h0M27.2 101.0h0M46.4 81.5h0M33.3 106.8h0M80.5 93.9h0M64.7 98.8h0M65.6 90.4h0M41.4 104.7h0M77.9 89.6h0M92.0 95.0h0M60.1 113.3h0M23.9 95.8h0M77.7 91.6h0M39.3 106.4h0M25.3 83.0h0M58.6 98.8h0M89.4 91.7h0M35.8 105.7h0M34.7 79.1h0M40.4 114.8h0M68.0 90.9h0M55.6 90.1h0M30.9 105.5h0M68.7 93.1h0M27.5 99.2h0M87.9 113.4h0M39.1 87.4h0M53.8 86.7h0M76.7 102.1h0M93.2 86.1h0M34.3 110.4h0M42.1 106.2h0M43.2 90.4h0M85.9 84.1h0M65.3 95.0h0M85.4 85.9h0M48.6 107.2h0M36.1 110.4h0M44.2 78.9h0M91.8 78.4h0M33.9 105.6h0M35.2 103.6h0M47.2 112.4h0M85.3 114.7h0M39.8 107.7h0M26.0 96.9h0M53.6 81.9h0M93.0 89.9h0M31.8 96.3h0M53.4 84.7h0M33.7 105.7h0M31.2 91.3h0M87.9 91.1h0M91.3 111.1h0M42.5 84.6h0M28.1 79.6h0M52.0 98.9h0M24.0 103.8h0M61.5 98.6h0M92.4 110.8h0M51.4 89.9h0M91.7 92.5h0M52.1 83.4h0M23.7 100.8h0M41.2 100.9h0M40.2 85.4h0M82.6 107.4h0M26.8 104.0h0M68.7 98.6h0M91.6 78.0h0M83.3 97.1h0M93.2 86.8h0M75.6 92.2h0M51.0 97.7h0M70.9 90.1h0M61.5 86.4h0M41.9 112.1h0M74.0 97.6h0M38.9 83.3h0M60.5 97.6h0M80.5 86.9h0M81.1 95.3h0M81.5 111.5h0M26.3 92.3h0M80.8 82.6h0M41.0 81.9h0M79.8 97.6h0M29.5 92.8h0M72.2 94.8h0M79.4 106.5h0M71.1 91.8h0M40.0 91.9h0M50.1 78.7h0M63.4 80.2h0M73.8 88.3h0M40.3 109.3h0M68.0 110.2h0M53.0 107.7h0M49.4 79.6h0M49.1 104.7h0M52.0 102.3h0M48.1 92.5h0M88.3 85.2h0M73.3 92.0h0M46.5 80.7h0M50.0 97.7h0M86.7 106.4h0M65.0 95.3h0M82.3 93.6h0M85.9 94.5h0M59.3 108.9h0M75.4 93.1h0M71.1 98.8h0M77.4 82.4h0M28.7 108.7h0M29.5 106.2h0M27.2 103.5h0M57.2 80.1h0M52.7 99.9h0M80.7 110.7h0M46.8 97.4h0M92.8 88.3h0M45.3 87.6h0M62.4 97.2h0M26.9 89.4h0M79.7 110.1h0M37.5 80.0h0M49.6 95.4h0M64.3 91.7h0M37.4 112.5h0M26.9 89.8h0M52.0 99.2h0M42.5 107.9h0M73.3 108.1h0M55.3 113.1h0M85.0 80.2h0M68.2 79.8h0M28.4 100.4h0M88.1 99.0h0M58.3 103.3h0M44.0 85.9h0M33.5 112.4h0M30.4 81.6h0M90.1 93.6h0M41.4 112.0h0M34.2 80.1h0M26.2 109.4h0M39.7 99.8h0M62.7 83.8h0M46.1 109.5h0M79.5 114.8h0M25.6 92.2h0M39.0 98.5h0M56.0 105.3h0M71.0 82.3h0M31.9 112.6h0M89.3 97.7h0M47.8 106.1h0M88.7 81.5h0M84.0 100.4h0M29.5 83.2h0M86.1 109.7h0M88.3 79.2h0M91.3 90.9h0M69.5 79.9h0M54.9 87.3h0M35.9 107.5h0M28.2 99.0h0M62.1 107.5h0M55.7 79.3h0M30.1 102.3h0M63.9 91.2h0M69.9 84.1h0M89.5 90.4h0M84.7 96.0h0M29.9 111.0h0M58.2 98.1h0M56.2 84.2h0M58.9 91.8h0M51.7 85.6h0M40.2 110.7h0M85.9 78.6h0M57.6 107.7h0M71.7 86.6h0M34.1 87.9h0M50.9 97.4h0M85.9 81.2h0M39.7 100.3h0M73.3 80.3h0M65.4 114.9h0M66.8 103.9h0M47.3 108.4h0M88.0 78.4h0M52.3 93.3h0M40.5 105.5h0M33.9 90.9h0M37.2 86.2h0M91.9 115.4h0M57.0 96.6h0M87.1 106.2h0M37.3 101.4h0M78.6 81.5h0M47.8 84.1h0M70.6 106.0h0M81.5 113.1h0M75.7 109.2h0M64.8 94.3h0M78.4 110.7h0M90.9 97.9h0M31.4 114.3h0M41.0 109.4h0M37.2 95.2h0M57.9 112.1h0M73.2 92.7h0M79.1 103.6h0M81.4 93.2h0M69.2 109.4h0M65.1 109.4h0M23.6 96.3h0M31.1 108.5h0M65.8 95.2h0M38.3 91.3h0M66.8 89.0h0M42.4 104.3h0M69.8 108.3h0M71.3 79.6h0M36.2 88.2h0M48.8 86.4h0M66.2 111.5h0M58.4 113.8h0M92.8 85.1h0M34.7 97.8h0M35.6 113.4h0M80.2 87.4h0M30.4 98.7h0M59.4 92.1h0M86.1 103.0h0M67.2 94.7h0M48.7 102.8h0M49.7 97.6h0M87.1 96.7h0M91.9 80.1h0M71.4 98.9h0M76.1 111.4h0M76.0 79.3h0M32.9 113.7h0M33.5 100.0h0M26.6 92.7h0M68.4 88.5h0M43.8 98.4h0M92.1 102.3h0M70.9 92.3h0M73.2 103.9h0M34.7 99.6h0M79.1 91.0h0M59.6 110.9h0M75.2 84.4h0M27.1 89.2h0M91.3 114.1h0M45.1 113.4h0M45.9 94.4h0M41.6 92.8h0M91.0 88.0h0M87.2 94.9h0M68.1 107.2h0M34.0 106.4h0M62.6 103.1h0M42.7 91.6h0M60.5 88.8h0M41.6 106.9h0M81.4 99.2h0M89.4 88.0h0M28.2 98.6h0M71.0 93.5h0M31.1 89.5h0M91.3 101.8h0M77.8 92.8h0M75.5 90.8h0M79.9 91.1h0M84.6 97.9h0M70.4 111.8h0M47.1 80.5h0M58.6 109.9h0M63.9 93.1h0M42.5 109.7h0M82.2 83.7h0M76.3 96.8h0M86.5 105.9h0M68.9 111.0h0M72.8 104.4h0M42.6 80.5h0M81.2 88.2h0M39.0 81.5h0M91.8 108.1h0M72.5 80.7h0M46.2 78.1h0M33.1 88.3h0M54.6 98.8h0M26.1 109.0h0M39.1 101.6h0M46.6 99.3h0M79.1 85.8h0M80.2 98.1h0M78.0 79.1h0M53.1 80.4h0M74.2 99.9h0M59.3 100.1h0M84.3 115.3h0M90.9 90.4h0M28.3 95.9h0M55.2 103.6h0M55.3 90.8h0M51.6 88.6h0M75.0 97.4h0M37.2 104.4h0M42.0 99.0h0M91.7 106.0h0M88.0 105.1h0M27.7 85.7h0M84.0 105.1h0M41.8 91.3h0M67.7 115.2h0M26.4 84.6h0M86.5 108.2h0M30.5 82.0h0M78.0 95.7h0M87.4 107.8h0M81.1 82.8h0M62.9 97.0h0M41.0 78.8h0M73.2 113.4h0M54.0 105.5h0M80.4 109.6h0M24.2 86.0h0M49.9 78.3h0M78.6 95.4h0M85.8 98.0h0M46.0 101.4h0M57.4 102.0h0M40.4 112.0h0M30.6 100.2h0M37.4 95.1h0M68.0 104.5h0M28.0 105.2h0M56.4 93.0h0M73.5 87.0h0M71.9 95.7h0M87.2 100.5h0M40.1 115.0h0M50.9 107.6h0M67.9 105.8h0M29.9 114.6h0M26.0 79.8h0M88.7 86.2h0M88.7 101.9h0M41.8 83.8h0M76.5 81.9h0M73.2 85.0h0M34.7 97.2h0M78.6 111.4h0M23.5 109.9h0M81.0 96.8h0M65.1 108.0h0M27.1 98.5h0M51.2 78.3h0M25.0 109.1h0M55.5 82.6h0M37.9 94.1h0M91.9 98.5h0M29.9 105.4h0M82.9 81.8h0M44.6 106.6h0M65.9 114.7h0M23.8 80.8h0M72.0 100.5h0M55.3 93.3h0M68.9 112.4h0M79.3 112.2h0M73.7 79.1h0M83.1 94.2h0M35.9 113.4h0M73.0 87.5h0M47.8 90.2h0M54.4 114.8h0M88.8 106.6h0M93.2 106.2h0M40.9 93.5h0M39.5 111.2h0M46.4 106.9h0M85.9 107.8h0M30.7 109.0h0M67.4 91.8h0M91.2 84.0h0M69.0 98.2h0M51.9 112.3h0M91.3 81.4h0M43.5 112.0h0M41.6 104.8h0M35.7 94.4h0M71.9 106.0h0M40.8 87.6h0M71.9 85.8h0M91.1 102.1h0M69.4 100.4h0M44.7 80.4h0M24.3 91.6h0M31.2 96.5h0M71.6 88.3h0M35.8 81.8h0M52.0 103.9h0M74.5 81.6h0M47.4 109.2h0M81.6 86.5h0M79.7 103.2h0M24.0 85.1h0M34.4 102.7h0M69.8 84.8h0M30.1 114.9h0M69.2 99.4h0M27.9 78.6h0M32.4 114.1h0M74.1 83.2h0M41.0 91.7h0M31.1 87.3h0M43.4 92.3h0M39.0 85.3h0M50.3 91.7h0M56.5 110.6h0M70.0 109.4h0M25.4 94.4h0M55.6 104.7h0M31.6 96.0h0M39.5 94.5h0M28.1 91.5h0M89.1 98.8h0M38.9 105.9h0M84.5 114.1h0M31.0 113.4h0M40.2 84.4h0M38.2 81.1h0M88.3 95.3h0M28.5 95.0h0M37.7 102.9h0M31.7 114.9h0M36.0 78.4h0M59.5 78.9h0M75.4 98.1h0M58.4 100.7h0M33.5 108.1h0M75.3 110.1h0M86.8 84.8h0M65.3 111.8h0M38.6 79.3h0M33.2 85.2h0M64.3 113.2h0M71.0 78.5h0M39.7 95.9h0M90.0 96.5h0M67.0 86.1h0M37.5 115.5h0M39.2 114.0h0M51.9 90.9h0M24.9 92.0h0M81.5 78.0h0M41.4 95.0h0M73.3 83.2h0M31.8 114.0h0M32.9 97.6h0M85.6 80.1h0M35.1 100.0h0M52.0 111.3h0M83.8 113.9h0M89.5 93.3h0M87.6 81.9h0M43.7 88.8h0M84.5 93.8h0M83.0 108.3h0M59.4 82.4h0M69.6 100.0h0M86.5 114.1h0M28.6 111.7h0M36.1 104.0h0M39.9 91.7h0M70.9 80.8h0M67.2 95.7h0M79.5 78.4h0M71.0 104.6h0M36.0 113.9h0M39.7 94.1h0M37.9 93.3h0M86.6 86.7h0M48.6 102.9h0M32.3 86.3h0M42.0 79.3h0M51.9 93.8h0M64.2 113.3h0M48.3 104.4h0M35.6 96.1h0M70.8 84.0h0M91.0 106.8h0M68.4 101.8h0M91.2 85.4h0M44.4 87.6h0M65.6 109.9h0M64.7 85.4h0M60.9 105.2h0M28.2 78.2h0M72.2 78.1h0M41.9 104.7h0M24.7 82.3h0M91.5 83.6h0M60.0 90.0h0M57.0 87.7h0M29.2 84.1h0M67.2 104.1h0M79.0 105.3h0M57.9 85.1h0M62.7 79.9h0M72.0 92.4h0M39.4 107.9h0M29.9 100.0h0M73.1 108.2h0M39.6 81.5h0M63.0 83.2h0M64.2 82.0h0M40.2 87.7h0M60.8 105.2h0M74.2 86.3h0M68.3 103.9h0M86.7 85.7h0M69.9 87.8h0M39.2 106.9h0M73.7 114.0h0M45.1 89.8h0M27.2 100.8h0M26.8 97.3h0M88.8 110.9h0M37.2 82.5h0M59.9 91.6h0M60.5 107.1h0M28.2 92.5h0M41.1 103.1h0M45.7 95.9h0M77.5 91.9h0M88.5 113.0h0M30.7 95.1h0M42.9 79.4h0M87.2 82.8h0M66.8 89.2h0M76.1 106.9h0M29.3 92.8h0M91.0 79.9h0M77.3 83.1h0M28.3 84.1h0M81.9 84.3h0M77.1 94.0h0M32.0 87.1h0M31.5 87.7h0M86.0 111.9h0M90.5 100.7h0M56.0 104.9h0M32.4 85.3h0M30.8 108.5h0M40.7 87.6h0M92.9 83.6h0M45.9 84.5h0M47.3 85.0h0M81.1 110.4h0M24.0 106.6h0M86.5 113.7h0M82.9 108.7h0M49.0 92.0h0M49.9 82.1h0M87.2 93.4h0M85.7 106.3h0M87.9 108.2h0M74.5 106.3h0M41.1 102.6h0M82.3 83.0h0M46.9 108.8h0M82.6 109.8h0M33.1 113.2h0M70.9 102.5h0M84.5 98.5h0M47.2 107.4h0M84.5 86.0h0M40.8 81.8h0M25.1 107.9h0M28.3 80.5h0M37.3 95.3h0M79.7 113.8h0M67.8 111.6h0M86.5 105.5h0M84.7 99.5h0M64.6 109.1h0M57.3 93.6h0M70.1 85.8h0M48.8 113.9h0M32.1 112.3h0M64.8 94.2h0M53.5 81.5h0M81.0 107.6h0M38.9 105.9h0M38.7 111.1h0M53.8 92.3h0M88.7 85.6h0M46.4 105.5h0M61.7 96.8h0M33.4 113.9h0M62.7 107.8h0M87.3 98.7h0M84.4 91.6h0M37.9 78.9h0M86.5 111.8h0M59.2 113.0h0M33.4 101.7h0M53.1 100.6h0M42.7 93.8h0M56.2 81.5h0M47.2 104.9h0M40.0 87.6h0M35.6 100.6h0M37.5 100.0h0M76.0 104.7h0M42.5 109.4h0M27.0 113.4h0M29.4 80.6h0M70.9 83.3h0M68.2 115.4h0M77.2 87.2h0M34.6 93.4h0M44.6 84.1h0M29.3 85.2h0M58.8 84.9h0M54.2 114.5h0M89.7 95.7h0M64.9 83.4h0M28.5 104.3h0M51.7 91.3h0M48.0 103.9h0M34.0 110.4h0M23.8 109.9h0M48.2 101.6h0M51.5 94.2h0M62.3 102.9h0M90.0 83.4h0M83.2 107.7h0M70.9 90.8h0M61.9 93.1h0M31.4 111.7h0M25.2 90.1h0M58.1 91.6h0M47.9 97.9h0M68.2 95.9h0M50.5 100.8h0M41.6 91.9h0M48.8 112.2h0M42.7 90.5h0M34.6 103.9h0M36.9 80.2h0M33.6 86.5h0M41.8 105.5h0M87.3 113.5h0M88.1 81.4h0M53.8 85.2h0M83.7 92.5h0M84.7 106.3h0M92.0 79.4h0M32.0 78.8h0M67.6 82.2h0M36.0 100.8h0M91.5 91.5h0M53.8 92.7h0M39.7 114.5h0M72.9 84.6h0M34.0 91.2h0M27.4 97.9h0M25.7 94.5h0M63.8 94.9h0M65.6 90.6h0M89.6 110.2h0M62.7 83.3h0M50.2 103.9h0M79.7 107.5h0M23.7 107.9h0M70.4 99.4h0M52.0 114.0h0M88.6 101.1h0M49.8 88.1h0M79.0 107.6h0M93.0 103.8h0M76.6 87.8h0M34.4 110.2h0M42.6 112.6h0M88.7 106.4h0M76.8 99.5h0M64.5 94.0h0M29.4 107.1h0M42.7 82.3h0M54.4 105.2h0M74.6 102.3h0M58.0 105.1h0M69.3 88.4h0M88.0 113.4h0M53.3 99.4h0M76.6 95.1h0M51.5 113.6h0M31.6 106.1h0M71.1 80.0h0M61.3 105.8h0M68.1 92.1h0M80.6 79.2h0M29.4 109.9h0M25.7 95.4h0M73.8 105.3h0M88.9 84.9h0M80.6 82.5h0M58.5 90.6h0M88.7 95.8h0M40.9 112.2h0M87.0 101.0h0M77.5 101.7h0M83.4 94.6h0M87.5 108.2h0M75.7 86.7h0M81.2 114.1h0M34.6 103.6h0M51.8 84.3h0M56.4 96.5h0M49.1 98.8h0M64.7 84.1h0M49.1 114.0h0M33.2 99.8h0M50.4 98.5h0M25.3 85.7h0M43.3 101.6h0M90.0 103.7h0M90.0 101.8h0M83.9 103.1h0M65.8 89.3h0M40.5 114.5h0M24.0 98.7h0M59.0 82.4h0M70.3 103.7h0M93.0 103.4h0M23.4 79.8h0M91.4 89.7h0M23.9 93.6h0M64.7 108.9h0M37.6 84.7h0M30.4 113.0h0M85.2 97.3h0M91.2 93.2h0M28.0 109.1h0M31.1 106.0h0M33.7 91.7h0M90.3 115.3h0M67.1 102.5h0M74.3 98.7h0M86.6 87.6h0M34.4 83.6h0M79.6 84.0h0M63.7 99.0h0M61.5 78.6h0M53.0 86.9h0M40.3 108.9h0M29.8 95.9h0M46.9 106.7h0M70.4 109.3h0M58.7 112.6h0M36.0 80.6h0M46.6 81.3h0M53.1 89.6h0M89.1 87.2h0M44.8 90.2h0M72.9 94.1h0M26.5 82.6h0M68.9 83.9h0M27.4 97.0h0M30.5 105.8h0M59.2 84.3h0M53.8 102.8h0M86.8 78.1h0M51.3 85.4h0M71.6 115.3h0M42.0 103.1h0M51.5 103.8h0M34.2 80.6h0M92.9 112.5h0M58.6 96.3h0M70.4 96.6h0M43.8 113.0h0M56.6 83.3h0M32.2 103.7h0M63.9 114.6h0M73.6 108.0h0M45.9 80.0h0M74.1 91.0h0M49.1 104.7h0M92.1 94.4h0M29.7 105.2h0M68.1 83.8h0M73.7 82.3h0M70.5 78.1h0M48.2 110.8h0M45.7 112.1h0M84.1 100.1h0M68.6 113.5h0M37.1 97.5h0M47.0 92.0h0M64.6 86.3h0M58.7 96.9h0M70.0 85.0h0M42.7 106.9h0M78.2 97.4h0M88.4 97.2h0M43.7 93.1h0M80.8 96.1h0M38.3 95.0h0M44.8 91.5h0M74.9 85.8h0M78.4 102.5h0M68.0 104.0h0M27.6 91.5h0M90.9 97.7h0M91.2 108.2h0M47.0 82.1h0M75.1 96.3h0M42.3 96.3h0M86.2 109.8h0M54.2 93.8h0M91.8 84.9h0M43.0 112.6h0M46.6 109.9h0M53.3 85.2h0M49.6 82.5h0M54.2 92.9h0M41.2 78.8h0M50.0 78.4h0M76.8 90.5h0M67.2 85.1h0M70.7 100.9h0M37.4 110.1h0M39.7 100.0h0M45.9 79.4h0M68.6 100.6h0M31.9 86.0h0M52.6 91.6h0M31.5 115.0h0M83.5 87.1h0M49.8 79.4h0M80.3 88.1h0M57.0 115.0h0M50.0 86.5h0M78.0 109.6h0M50.5 108.0h0M41.6 106.2h0M93.1 81.4h0M38.2 78.1h0M29.7 91.8h0M59.0 88.8h0M59.6 114.8h0M59.2 96.5h0M83.8 85.9h0M48.5 90.6h0M62.9 88.6h0M90.5 91.9h0M69.5 97.9h0M46.4 109.7h0M52.6 113.9h0M51.6 84.1h0M70.0 94.7h0M39.7 107.6h0M81.8 92.1h0M25.3 86.2h0M71.3 103.3h0M56.5 85.4h0M68.7 104.0h0M68.6 83.1h0M35.4 97.1h0M62.0 83.0h0M66.6 83.1h0M71.0 98.5h0M78.1 99.4h0M54.4 109.1h0M76.2 91.7h0M91.5 108.8h0M30.8 100.9h0M89.0 114.5h0M42.1 109.7h0M81.5 97.5h0M85.9 94.5h0M71.7 98.0h0M37.6 111.7h0M25.1 90.6h0M28.4 101.4h0M34.5 89.0h0M88.0 112.0h0M92.9 94.5h0M43.0 112.7h0M74.8 86.5h0M88.3 98.7h0M83.9 83.4h0M55.9 107.5h0M37.1 113.9h0M75.7 109.2h0M72.2 92.9h0M38.6 113.8h0M59.1 96.8h0M76.3 105.9h0M48.4 85.9h0M74.8 102.7h0M60.2 83.8h0M56.5 97.0h0M37.2 105.1h0M80.4 81.5h0M68.0 96.1h0M64.0 86.2h0M23.4 108.0h0M81.7 98.7h0M67.3 82.7h0M43.8 110.4h0M71.0 108.6h0M70.6 113.7h0M30.4 93.4h0M33.8 86.3h0M50.6 83.6h0M63.9 85.1h0M61.1 94.5h0M82.1 78.6h0M37.3 79.4h0M63.4 98.2h0M78.2 89.5h0M39.3 99.5h0M49.4 96.0h0M68.5 103.9h0M62.0 105.5h0M82.3 110.6h0M40.8 81.2h0M29.4 96.4h0M44.4 95.3h0M78.7 105.1h0M39.0 78.3h0M30.9 104.1h0M93.3 85.8h0M76.5 93.4h0M50.9 89.7h0M89.9 97.2h0M54.0 106.8h0M56.8 84.7h0M86.0 93.3h0M62.6 95.3h0M40.5 98.9h0M28.9 91.8h0M92.1 78.5h0M67.7 109.6h0M32.5 89.3h0M74.5 85.7h0M69.5 102.7h0M54.3 90.2h0M47.0 82.8h0M43.5 107.6h0M61.7 108.3h0M74.7 80.6h0M25.1 105.2h0M35.9 92.8h0M52.5 82.6h0M44.4 114.3h0M53.9 86.6h0M45.9 102.2h0M50.9 106.3h0M31.0 79.6h0M84.7 85.6h0M76.9 88.4h0M59.8 94.0h0M86.4 86.9h0M52.6 79.3h0M87.7 89.4h0M73.2 80.4h0M31.0 89.3h0M24.7 92.1h0M56.6 78.6h0M38.9 81.1h0M37.0 97.4h0M81.0 93.6h0M40.2 109.5h0M75.5 81.7h0M52.0 100.4h0M30.4 80.4h0M64.6 105.0h0M58.2 85.0h0M43.1 100.0h0M42.6 102.1h0M79.6 96.6h0M31.4 97.1h0M73.9 92.0h0M86.0 88.3h0M86.0 115.1h0M41.4 108.5h0M37.6 115.4h0M80.2 98.9h0M84.0 84.6h0M66.6 85.3h0M73.5 81.6h0M30.6 95.8h0M71.6 79.6h0M90.8 92.7h0M49.6 104.1h0M69.0 93.1h0M59.5 85.0h0M91.1 107.2h0M56.0 109.5h0M75.5 104.8h0M81.9 111.0h0M78.7 95.8h0M49.2 108.0h0M82.7 103.1h0M34.2 99.3h0M47.0 81.8h0M73.7 86.4h0M46.4 109.8h0M42.1 92.8h0M53.9 92.2h0M83.9 92.1h0M90.8 86.6h0M25.0 81.7h0M64.2 96.9h0M43.5 114.4h0M92.9 111.3h0M82.9 78.8h0M80.2 104.1h0M80.4 83.8h0M42.0 93.0h0M73.1 99.5h0M67.5 100.5h0M80.4 99.3h0M88.5 91.9h0M46.7 104.5h0M68.7 102.8h0M78.0 94.7h0M76.7 89.9h0M66.9 108.3h0M71.4 111.5h0M32.8 96.5h0M90.0 115.4h0M79.1 101.7h0M91.6 84.5h0M55.1 78.7h0M52.3 113.8h0M83.0 107.2h0M40.0 89.4h0M51.1 102.2h0M46.0 100.8h0M37.5 90.6h0M29.9 80.1h0M82.1 104.2h0M82.1 100.0h0M24.2 92.4h0M66.9 80.5h0M49.7 96.4h0M30.5 105.4h0M65.4 82.3h0M84.5 115.0h0M26.5 110.9h0M42.7 112.5h0M86.2 87.3h0M49.9 89.1h0M66.6 90.4h0M88.6 99.3h0M63.1 115.2h0M55.6 98.7h0M91.4 101.4h0M67.9 98.0h0M89.9 78.5h0M84.9 80.2h0M25.5 102.3h0M40.0 92.3h0M72.8 97.8h0M46.2 100.0h0M78.1 113.7h0M59.6 92.5h0M79.8 84.6h0M77.7 113.1h0M42.3 96.5h0M34.8 109.5h0M61.8 112.8h0M46.5 83.8h0M44.6 104.3h0M31.9 108.1h0M33.4 108.8h0M38.5 113.2h0M39.4 78.0h0M81.4 81.7h0M77.7 101.8h0M92.5 90.3h0M88.0 89.8h0M71.4 109.8h0M42.7 87.4h0M32.8 110.2h0M40.3 104.1h0M31.9 107.2h0M44.8 81.7h0M77.5 95.5h0M34.5 82.0h0M85.2 84.1h0M76.2 81.4h0M29.2 87.3h0M84.7 93.3h0M25.5 90.8h0M78.7 104.8h0M60.7 104.2h0M50.4 89.0h0M75.3 86.0h0M43.2 110.4h0M57.1 92.2h0M89.3 94.9h0M83.9 87.6h0M30.5 96.8h0M34.3 94.2h0M57.1 92.3h0M86.0 92.1h0M68.0 105.8h0M69.7 89.5h0M43.5 94.7h0M87.4 112.0h0M56.9 114.2h0M88.1 102.0h0M52.4 115.2h0M82.9 108.7h0M81.6 86.0h0M56.2 93.4h0M79.5 105.4h0M92.1 86.3h0M52.5 99.6h0M89.7 101.7h0M30.9 80.6h0M64.3 94.8h0M52.4 91.2h0M35.4 113.2h0M61.5 94.0h0M45.5 96.5h0M92.1 99.1h0M27.1 84.0h0M78.3 111.3h0M78.2 94.6h0M60.8 79.6h0M70.2 103.8h0M87.9 108.7h0M28.0 98.7h0M39.1 79.6h0M25.7 105.6h0M42.9 94.7h0M36.4 84.8h0M55.2 104.8h0M80.0 100.3h0M50.9 99.1h0M91.8 103.2h0M68.2 81.8h0M39.5 109.6h0M54.6 110.6h0M73.8 89.3h0M72.8 89.2h0M47.9 106.5h0M80.6 115.0h0M92.7 78.4h0M25.4 98.4h0M77.4 89.8h0M78.4 98.6h0M57.7 79.4h0M38.6 95.7h0M41.5 103.0h0M68.0 94.6h0M70.3 85.7h0M65.3 105.3h0M45.1 90.9h0M47.8 105.4h0M35.5 105.4h0M76.1 83.5h0M41.0 97.3h0M85.5 113.2h0M76.0 104.1h0M41.2 113.6h0M24.2 90.4h0M37.3 94.1h0M25.0 109.3h0M24.3 111.7h0M38.2 82.4h0M31.7 84.7h0M64.0 94.7h0M60.3 107.0h0M47.4 112.4h0M62.8 95.8h0M32.7 111.2h0M30.2 112.7h0M25.7 104.3h0M61.0 109.3h0M58.3 102.9h0M67.3 93.9h0M36.5 104.7h0M42.6 82.4h0M60.4 84.5h0M30.1 101.4h0M32.2 86.2h0M56.4 113.0h0M51.3 113.9h0M91.2 111.4h0M61.7 113.3h0M83.0 107.0h0M65.5 81.7h0M30.5 107.4h0M45.6 103.7h0M76.1 79.6h0M50.3 108.1h0M80.4 89.3h0M25.1 96.3h0M83.7 103.4h0M91.8 113.5h0M29.1 104.4h0M65.9 78.6h0M54.1 100.3h0M42.6 79.1h0M42.3 79.5h0M93.2 105.7h0M33.6 111.7h0M64.3 82.9h0M89.8 78.1h0M27.3 115.4h0M90.3 109.5h0M26.3 104.1h0M57.8 83.4h0M79.7 82.9h0M52.8 88.0h0M55.6 102.3h0M85.9 97.2h0M92.8 86.1h0M46.4 89.7h0M52.7 79.3h0M57.4 111.0h0M74.6 106.4h0M74.6 85.7h0M65.2 107.1h0M47.5 108.9h0M92.0 82.4h0M30.8 105.1h0M68.9 107.2h0M62.8 112.5h0M69.4 100.1h0M76.5 99.5h0M53.2 93.8h0M62.7 91.6h0M53.3 91.9h0M29.7 78.6h0M51.1 94.8h0M49.1 87.0h0M84.7 113.2h0M56.0 90.1h0M86.1 109.4h0M41.2 104.2h0M56.3 92.5h0M79.4 110.4h0M31.3 100.3h0M73.6 95.2h0M27.6 105.4h0M80.2 103.0h0M86.0 113.0h0M30.3 100.1h0M40.8 112.8h0M31.9 86.6h0M63.6 90.2h0M80.5 84.8h0M46.5 113.4h0M46.3 100.7h0M52.2 101.4h0M47.4 79.3h0M62.7 84.4h0M66.8 111.8h0M41.2 100.0h0M78.3 83.9h0M54.1 112.1h0M36.8 82.9h0M46.7 92.8h0M51.7 95.8h0M77.7 111.9h0M88.1 87.4h0M60.2 103.6h0M42.4 83.1h0M48.6 104.2h0M60.3 85.8h0M46.9 103.6h0M23.5 104.7h0M28.1 87.7h0M81.1 98.6h0M40.8 88.9h0M47.6 107.7h0M72.4 111.2h0M31.3 79.7h0M41.4 97.8h0M64.5 94.1h0M92.3 106.3h0M26.5 114.8h0M82.9 82.4h0M48.4 111.3h0M30.4 85.5h0M92.1 102.1h0M43.1 88.2h0M92.5 79.6h0M47.9 85.0h0M88.7 87.3h0M67.6 102.6h0M35.9 110.8h0M35.5 87.1h0M56.8 98.8h0M86.2 95.6h0M81.7 78.7h0M33.4 100.6h0M32.4 89.0h0M71.7 82.1h0M79.1 93.3h0M69.6 90.0h0M34.9 93.1h0M50.4 98.7h0M51.7 108.0h0M46.5 113.0h0M88.0 106.7h0M78.7 99.5h0M41.3 81.7h0M45.9 93.3h0M30.4 104.5h0M79.3 111.0h0M33.5 106.6h0M49.4 90.9h0M81.8 95.3h0M47.2 90.0h0M75.7 111.1h0M72.0 93.1h0M76.7 98.8h0M42.5 111.2h0M44.8 81.2h0M91.1 79.5h0M60.5 98.8h0M52.1 98.9h0M88.0 81.9h0M70.6 102.0h0M72.0 112.9h0M24.0 86.9h0M34.0 97.9h0M34.3 97.8h0M75.8 92.9h0M42.8 114.0h0M71.1 89.4h0M57.5 107.9h0M85.3 103.7h0M62.9 108.2h0M90.8 78.3h0M73.5 96.4h0M33.8 90.7h0M81.2 92.0h0M68.9 79.7h0M28.7 99.4h0M41.7 94.8h0M87.2 109.4h0M54.5 89.6h0M47.7 114.6h0M74.4 109.0h0M32.0 91.0h0M53.0 115.0h0M90.7 86.3h0M24.9 88.3h0M60.4 89.3h0M62.7 100.4h0M75.0 103.8h0M56.4 95.4h0M26.1 95.5h0M36.4 110.3h0M83.3 108.6h0M35.7 88.2h0M92.5 82.2h0M48.1 91.1h0M31.2 109.6h0M87.2 90.3h0M35.7 114.2h0M81.3 80.4h0M74.8 114.9h0M30.6 92.0h0M60.9 113.9h0M25.1 113.5h0M62.7 91.5h0M88.9 113.5h0M41.3 108.8h0M52.6 113.4h0M49.1 99.8h0M73.1 102.5h0M88.0 80.7h0M47.8 83.4h0" stroke="#1a6487" stroke-width="1.46" stroke-linecap="round" fill="none"/>
<line x1="23.30" y1="104.80" x2="90.43" y2="89.74" stroke="#ee1515" stroke-width="1.6"/>
<polygon fill="#ee1515" points="95.50,88.60 90.89,91.79 89.97,87.69"/>
<text transform="translate(9.70,95.90) rotate(-90)" font-size="5.2" font-weight="bold" text-anchor="middle" fill="#222" stroke="#222" stroke-width="0.12" dy="1.82">ENC rank</text>
<text x="56.00" y="125.60" font-size="6.7" font-weight="bold" text-anchor="middle" fill="#111" stroke="#111" stroke-width="0.14">GC rank</text>
<text x="99.10" y="69.00" font-size="6.5" font-weight="bold" text-anchor="start" fill="#111" stroke="#111" stroke-width="0.14">(g)</text>
<text x="156.00" y="71.00" font-size="3.35" font-weight="normal" text-anchor="middle" fill="#333">Rickettsia GC histogram</text>
<g stroke="#e4e4e4" stroke-width="0.4"><line x1="116.50" y1="74.90" x2="201.00" y2="74.90"/><line x1="116.50" y1="78.63" x2="201.00" y2="78.63"/><line x1="116.50" y1="82.37" x2="201.00" y2="82.37"/><line x1="116.50" y1="86.10" x2="201.00" y2="86.10"/><line x1="116.50" y1="89.83" x2="201.00" y2="89.83"/><line x1="116.50" y1="93.57" x2="201.00" y2="93.57"/><line x1="116.50" y1="97.30" x2="201.00" y2="97.30"/><line x1="116.50" y1="101.03" x2="201.00" y2="101.03"/><line x1="116.50" y1="104.77" x2="201.00" y2="104.77"/><line x1="116.50" y1="108.50" x2="201.00" y2="108.50"/></g>
<text x="115.60" y="75.70" font-size="2.1" font-weight="normal" text-anchor="end" fill="#555555">180</text>
<text x="115.60" y="79.43" font-size="2.1" font-weight="normal" text-anchor="end" fill="#555555">160</text>
<text x="115.60" y="83.17" font-size="2.1" font-weight="normal" text-anchor="end" fill="#555555">140</text>
<text x="115.60" y="86.90" font-size="2.1" font-weight="normal" text-anchor="end" fill="#555555">120</text>
<text x="115.60" y="90.63" font-size="2.1" font-weight="normal" text-anchor="end" fill="#555555">100</text>
<text x="115.60" y="94.37" font-size="2.1" font-weight="normal" text-anchor="end" fill="#555555">80</text>
<text x="115.60" y="98.10" font-size="2.1" font-weight="normal" text-anchor="end" fill="#555555">60</text>
<text x="115.60" y="101.83" font-size="2.1" font-weight="normal" text-anchor="end" fill="#555555">40</text>
<text x="115.60" y="105.57" font-size="2.1" font-weight="normal" text-anchor="end" fill="#555555">20</text>
<text x="115.60" y="109.30" font-size="2.1" font-weight="normal" text-anchor="end" fill="#555555">0</text>
<path d="M116.90,108.50V107.30H119.76V106.00H122.62V103.90H125.48V100.80H128.34V102.70H131.20V97.80H134.06V91.80H136.92V88.30H139.78V79.80H142.64V85.50H145.50V77.40H148.36V81.80H151.22V83.90H154.08V85.10H156.94V90.50H159.80V93.40H162.66V97.00H165.52V100.00H168.38V102.40H171.24V103.60H174.10V104.70H176.96V105.70H179.82V106.30H182.68V107.30H185.54V107.60H188.40V108.00H191.26V107.30H194.12V108.10H196.98V108.50Z" fill="#1a6487"/>
<path d="M119.76,107.30V108.50M122.62,106.00V108.50M125.48,103.90V108.50M128.34,102.70V108.50M131.20,102.70V108.50M134.06,97.80V108.50M136.92,91.80V108.50M139.78,88.30V108.50M142.64,85.50V108.50M145.50,85.50V108.50M148.36,81.80V108.50M151.22,83.90V108.50M154.08,85.10V108.50M156.94,90.50V108.50M159.80,93.40V108.50M162.66,97.00V108.50M165.52,100.00V108.50M168.38,102.40V108.50M171.24,103.60V108.50M174.10,104.70V108.50M176.96,105.70V108.50M179.82,106.30V108.50M182.68,107.30V108.50M185.54,107.60V108.50M188.40,108.00V108.50M191.26,108.00V108.50M194.12,108.10V108.50" stroke="#fff" stroke-width="0.3" stroke-opacity="0.3"/>
<text x="122.10" y="114.42" font-size="6.2" font-weight="bold" text-anchor="middle" fill="#111" stroke="#111" stroke-width="0.14">0.2</text>
<text x="147.20" y="114.42" font-size="6.2" font-weight="bold" text-anchor="middle" fill="#111" stroke="#111" stroke-width="0.14">0.3</text>
<text x="171.80" y="114.42" font-size="6.2" font-weight="bold" text-anchor="middle" fill="#111" stroke="#111" stroke-width="0.14">0.4</text>
<text x="196.40" y="114.42" font-size="6.2" font-weight="bold" text-anchor="middle" fill="#111" stroke="#111" stroke-width="0.14">0.5</text>
<text x="158.40" y="121.50" font-size="6.7" font-weight="bold" text-anchor="middle" fill="#111" stroke="#111" stroke-width="0.14">GC content (0.00-1.00)</text>
<text transform="translate(107.70,92.20) rotate(-90)" font-size="4.6" font-weight="bold" text-anchor="middle" fill="#222" stroke="#222" stroke-width="0.12" dy="1.61">Number of genes (N)</text>
<text x="195.50" y="67.90" font-size="6.5" font-weight="bold" text-anchor="start" fill="#111" stroke="#111" stroke-width="0.14">(h)</text>
<text x="253.00" y="72.00" font-size="3.35" font-weight="normal" text-anchor="middle" fill="#333">Rickettsia ENC histogram</text>
<g stroke="#e4e4e4" stroke-width="0.4"><line x1="214.30" y1="75.80" x2="300.00" y2="75.80"/><line x1="214.30" y1="81.78" x2="300.00" y2="81.78"/><line x1="214.30" y1="87.76" x2="300.00" y2="87.76"/><line x1="214.30" y1="93.74" x2="300.00" y2="93.74"/><line x1="214.30" y1="99.72" x2="300.00" y2="99.72"/><line x1="214.30" y1="105.70" x2="300.00" y2="105.70"/></g>
<text x="213.40" y="76.60" font-size="2.1" font-weight="normal" text-anchor="end" fill="#555555">250</text>
<text x="213.40" y="82.58" font-size="2.1" font-weight="normal" text-anchor="end" fill="#555555">200</text>
<text x="213.40" y="88.56" font-size="2.1" font-weight="normal" text-anchor="end" fill="#555555">150</text>
<text x="213.40" y="94.54" font-size="2.1" font-weight="normal" text-anchor="end" fill="#555555">100</text>
<text x="213.40" y="100.52" font-size="2.1" font-weight="normal" text-anchor="end" fill="#555555">50</text>
<text x="213.40" y="106.50" font-size="2.1" font-weight="normal" text-anchor="end" fill="#555555">0</text>
<path d="M214.90,105.70V105.20H218.99V104.70H223.08V104.40H227.17V103.90H231.26V99.50H235.35V98.20H239.44V94.50H243.53V89.30H247.62V81.10H251.71V78.70H255.80V81.00H259.89V82.80H263.98V89.30H268.07V93.20H272.16V100.00H276.25V100.40H280.34V104.00H284.43V104.90H288.52V103.90H292.61V102.20H296.70V105.70Z" fill="#1a6487"/>
<path d="M218.99,105.20V105.70M223.08,104.70V105.70M227.17,104.40V105.70M231.26,103.90V105.70M235.35,99.50V105.70M239.44,98.20V105.70M243.53,94.50V105.70M247.62,89.30V105.70M251.71,81.10V105.70M255.80,81.00V105.70M259.89,82.80V105.70M263.98,89.30V105.70M268.07,93.20V105.70M272.16,100.00V105.70M276.25,100.40V105.70M280.34,104.00V105.70M284.43,104.90V105.70M288.52,104.90V105.70M292.61,103.90V105.70" stroke="#fff" stroke-width="0.3" stroke-opacity="0.3"/>
<text x="218.40" y="112.71" font-size="7.0" font-weight="bold" text-anchor="middle" fill="#111" stroke="#111" stroke-width="0.14">21</text>
<text x="240.90" y="112.71" font-size="7.0" font-weight="bold" text-anchor="middle" fill="#111" stroke="#111" stroke-width="0.14">31</text>
<text x="255.50" y="112.71" font-size="7.0" font-weight="bold" text-anchor="middle" fill="#111" stroke="#111" stroke-width="0.14">41</text>
<text x="277.60" y="112.71" font-size="7.0" font-weight="bold" text-anchor="middle" fill="#111" stroke="#111" stroke-width="0.14">51</text>
<text x="293.50" y="112.71" font-size="7.0" font-weight="bold" text-anchor="middle" fill="#111" stroke="#111" stroke-width="0.14">61</text>
<text x="256.40" y="120.50" font-size="6.7" font-weight="bold" text-anchor="middle" fill="#111" stroke="#111" stroke-width="0.14">ENC level (20-61)</text>
<text transform="translate(205.70,92.30) rotate(-90)" font-size="4.6" font-weight="bold" text-anchor="middle" fill="#222" stroke="#222" stroke-width="0.12" dy="1.61">Number of genes (N)</text>
<text x="290.90" y="66.90" font-size="6.5" font-weight="bold" text-anchor="start" fill="#111" stroke="#111" stroke-width="0.14">(i)</text>
<text x="349.00" y="72.60" font-size="3.35" font-weight="normal" text-anchor="middle" fill="#333">Rickettsia GC rank - ENC rank</text>
<g stroke="#e4e4e4" stroke-width="0.4"><line x1="310.70" y1="72.00" x2="395.00" y2="72.00"/><line x1="310.70" y1="76.56" x2="395.00" y2="76.56"/><line x1="310.70" y1="81.11" x2="395.00" y2="81.11"/><line x1="310.70" y1="85.67" x2="395.00" y2="85.67"/><line x1="310.70" y1="90.23" x2="395.00" y2="90.23"/><line x1="310.70" y1="94.79" x2="395.00" y2="94.79"/><line x1="310.70" y1="99.34" x2="395.00" y2="99.34"/><line x1="310.70" y1="103.90" x2="395.00" y2="103.90"/></g>
<text x="309.80" y="72.80" font-size="2.1" font-weight="normal" text-anchor="end" fill="#555555">350</text>
<text x="309.80" y="77.36" font-size="2.1" font-weight="normal" text-anchor="end" fill="#555555">300</text>
<text x="309.80" y="81.91" font-size="2.1" font-weight="normal" text-anchor="end" fill="#555555">250</text>
<text x="309.80" y="86.47" font-size="2.1" font-weight="normal" text-anchor="end" fill="#555555">200</text>
<text x="309.80" y="91.03" font-size="2.1" font-weight="normal" text-anchor="end" fill="#555555">150</text>
<text x="309.80" y="95.59" font-size="2.1" font-weight="normal" text-anchor="end" fill="#555555">100</text>
<text x="309.80" y="100.14" font-size="2.1" font-weight="normal" text-anchor="end" fill="#555555">50</text>
<text x="309.80" y="104.70" font-size="2.1" font-weight="normal" text-anchor="end" fill="#555555">0</text>
<path d="M310.70,103.90V103.20H314.63V102.70H318.56V101.90H322.49V100.60H326.42V100.80H330.35V99.10H334.28V98.30H338.21V92.90H342.14V88.80H346.07V85.20H350.00V78.20H353.93V86.00H357.86V90.50H361.79V95.40H365.72V97.00H369.65V100.00H373.58V101.40H377.51V102.20H381.44V103.10H385.37V103.20H389.30V103.90Z" fill="#1a6487"/>
<path d="M314.63,103.20V103.90M318.56,102.70V103.90M322.49,101.90V103.90M326.42,100.80V103.90M330.35,100.80V103.90M334.28,99.10V103.90M338.21,98.30V103.90M342.14,92.90V103.90M346.07,88.80V103.90M350.00,85.20V103.90M353.93,86.00V103.90M357.86,90.50V103.90M361.79,95.40V103.90M365.72,97.00V103.90M369.65,100.00V103.90M373.58,101.40V103.90M377.51,102.20V103.90M381.44,103.10V103.90M385.37,103.20V103.90" stroke="#fff" stroke-width="0.3" stroke-opacity="0.3"/>
<text x="320.10" y="111.26" font-size="6.6" font-weight="bold" text-anchor="middle" fill="#111" stroke="#111" stroke-width="0.14">-16,000</text>
<text x="350.80" y="111.26" font-size="6.6" font-weight="bold" text-anchor="middle" fill="#111" stroke="#111" stroke-width="0.14">0</text>
<text x="381.40" y="111.26" font-size="6.6" font-weight="bold" text-anchor="middle" fill="#111" stroke="#111" stroke-width="0.14">16,000</text>
<text x="351.60" y="119.10" font-size="6.7" font-weight="bold" text-anchor="middle" fill="#111" stroke="#111" stroke-width="0.14">GC rank - ENC rank</text>
<text transform="translate(301.20,91.80) rotate(-90)" font-size="4.6" font-weight="bold" text-anchor="middle" fill="#222" stroke="#222" stroke-width="0.12" dy="1.61">Number of genes (N)</text>
<text x="387.00" y="67.10" font-size="6.5" font-weight="bold" text-anchor="start" fill="#111" stroke="#111" stroke-width="0.14">(j)</text>
<text x="446.00" y="73.00" font-size="3.35" font-weight="normal" text-anchor="middle" fill="#333">Rickettsia GC rank +ENC rank</text>
<g stroke="#e4e4e4" stroke-width="0.4"><line x1="406.00" y1="76.50" x2="493.00" y2="76.50"/><line x1="406.00" y1="79.29" x2="493.00" y2="79.29"/><line x1="406.00" y1="82.08" x2="493.00" y2="82.08"/><line x1="406.00" y1="84.87" x2="493.00" y2="84.87"/><line x1="406.00" y1="87.66" x2="493.00" y2="87.66"/><line x1="406.00" y1="90.45" x2="493.00" y2="90.45"/><line x1="406.00" y1="93.24" x2="493.00" y2="93.24"/><line x1="406.00" y1="96.03" x2="493.00" y2="96.03"/><line x1="406.00" y1="98.82" x2="493.00" y2="98.82"/><line x1="406.00" y1="101.61" x2="493.00" y2="101.61"/><line x1="406.00" y1="104.40" x2="493.00" y2="104.40"/></g>
<text x="405.10" y="77.30" font-size="2.1" font-weight="normal" text-anchor="end" fill="#555555">2000</text>
<text x="405.10" y="80.09" font-size="2.1" font-weight="normal" text-anchor="end" fill="#555555">1800</text>
<text x="405.10" y="82.88" font-size="2.1" font-weight="normal" text-anchor="end" fill="#555555">1600</text>
<text x="405.10" y="85.67" font-size="2.1" font-weight="normal" text-anchor="end" fill="#555555">1400</text>
<text x="405.10" y="88.46" font-size="2.1" font-weight="normal" text-anchor="end" fill="#555555">1200</text>
<text x="405.10" y="91.25" font-size="2.1" font-weight="normal" text-anchor="end" fill="#555555">1000</text>
<text x="405.10" y="94.04" font-size="2.1" font-weight="normal" text-anchor="end" fill="#555555">800</text>
<text x="405.10" y="96.83" font-size="2.1" font-weight="normal" text-anchor="end" fill="#555555">600</text>
<text x="405.10" y="99.62" font-size="2.1" font-weight="normal" text-anchor="end" fill="#555555">400</text>
<text x="405.10" y="102.41" font-size="2.1" font-weight="normal" text-anchor="end" fill="#555555">200</text>
<text x="405.10" y="105.20" font-size="2.1" font-weight="normal" text-anchor="end" fill="#555555">0</text>
<path d="M407.60,104.40V97.10H413.52V93.00H419.44V88.50H425.36V87.70H431.28V85.90H437.20V84.60H443.12V81.70H449.04V79.50H454.96V80.80H460.88V85.10H466.80V86.30H472.72V89.50H478.64V95.90H484.56V98.30H490.48V104.40Z" fill="#1a6487"/>
<path d="M413.52,97.10V104.40M419.44,93.00V104.40M425.36,88.50V104.40M431.28,87.70V104.40M437.20,85.90V104.40M443.12,84.60V104.40M449.04,81.70V104.40M454.96,80.80V104.40M460.88,85.10V104.40M466.80,86.30V104.40M472.72,89.50V104.40M478.64,95.90V104.40M484.56,98.30V104.40" stroke="#fff" stroke-width="0.3" stroke-opacity="0.3"/>
<text x="409.50" y="112.16" font-size="6.6" font-weight="bold" text-anchor="middle" fill="#111" stroke="#111" stroke-width="0.14">0</text>
<text x="448.00" y="112.16" font-size="6.6" font-weight="bold" text-anchor="middle" fill="#111" stroke="#111" stroke-width="0.14">16,000</text>
<text x="479.90" y="112.16" font-size="6.6" font-weight="bold" text-anchor="middle" fill="#111" stroke="#111" stroke-width="0.14">32,000</text>
<text x="448.40" y="119.10" font-size="6.7" font-weight="bold" text-anchor="middle" fill="#111" stroke="#111" stroke-width="0.14">GC rank + ENC rank</text>
<text transform="translate(397.10,91.50) rotate(-90)" font-size="4.6" font-weight="bold" text-anchor="middle" fill="#222" stroke="#222" stroke-width="0.12" dy="1.61">Number of genes (N)</text>
<rect x="13" y="127.6" width="89" height="53.900000000000006" fill="none" stroke="#ececec" stroke-width="0.5"/>
<text x="1.90" y="131.00" font-size="6.5" font-weight="bold" text-anchor="start" fill="#111" stroke="#111" stroke-width="0.14">(k)</text>
<text x="48.00" y="132.00" font-size="3.35" font-weight="normal" text-anchor="middle" fill="#333">Dictyostelium ENC rank vs GC rank scatter</text>
<text x="92.00" y="131.00" font-size="2.0" font-weight="normal" text-anchor="middle" fill="#777">y = 0.7026x + 2857.4</text>
<text x="92.00" y="133.60" font-size="2.0" font-weight="normal" text-anchor="middle" fill="#777">R² = 0.4365</text>
<g stroke="#e4e4e4" stroke-width="0.4"><line x1="25.00" y1="136.80" x2="98.00" y2="136.80"/><line x1="25.00" y1="142.40" x2="98.00" y2="142.40"/><line x1="25.00" y1="148.00" x2="98.00" y2="148.00"/><line x1="25.00" y1="153.60" x2="98.00" y2="153.60"/><line x1="25.00" y1="159.20" x2="98.00" y2="159.20"/><line x1="25.00" y1="164.80" x2="98.00" y2="164.80"/><line x1="25.00" y1="170.40" x2="98.00" y2="170.40"/><line x1="25.00" y1="176.00" x2="98.00" y2="176.00"/></g>
<text x="24.20" y="137.60" font-size="2.2" font-weight="normal" text-anchor="end" fill="#555555">14000.00</text>
<text x="24.20" y="143.20" font-size="2.2" font-weight="normal" text-anchor="end" fill="#555555">12000.00</text>
<text x="24.20" y="148.80" font-size="2.2" font-weight="normal" text-anchor="end" fill="#555555">10000.00</text>
<text x="24.20" y="154.40" font-size="2.2" font-weight="normal" text-anchor="end" fill="#555555">8000.00</text>
<text x="24.20" y="160.00" font-size="2.2" font-weight="normal" text-anchor="end" fill="#555555">6000.00</text>
<text x="24.20" y="165.60" font-size="2.2" font-weight="normal" text-anchor="end" fill="#555555">4000.00</text>
<text x="24.20" y="171.20" font-size="2.2" font-weight="normal" text-anchor="end" fill="#555555">2000.00</text>
<text x="24.20" y="176.80" font-size="2.2" font-weight="normal" text-anchor="end" fill="#555555">0.00</text>
<line x1="98" y1="136.8" x2="98" y2="176" stroke="#e4e4e4" stroke-width="0.4"/>
<text x="25.00" y="180.20" font-size="2.2" font-weight="normal" text-anchor="middle" fill="#555555">0</text>
<text x="36.50" y="180.20" font-size="2.2" font-weight="normal" text-anchor="middle" fill="#555555">2000</text>
<text x="48.00" y="180.20" font-size="2.2" font-weight="normal" text-anchor="middle" fill="#555555">4000</text>
<text x="59.50" y="180.20" font-size="2.2" font-weight="normal" text-anchor="middle" fill="#555555">6000</text>
<text x="71.00" y="180.20" font-size="2.2" font-weight="normal" text-anchor="middle" fill="#555555">8000</text>
<text x="82.50" y="180.20" font-size="2.2" font-weight="normal" text-anchor="middle" fill="#555555">10000</text>
<text x="94.00" y="180.20" font-size="2.2" font-weight="normal" text-anchor="middle" fill="#555555">12000</text>
<rect x="25" y="139" width="69" height="38" fill="#1a6487"/>
<path d="M66.3 152.9h0M27.5 155.4h0M43.1 168.6h0M73.3 144.4h0M87.3 170.0h0M89.0 175.6h0M70.4 144.0h0M51.4 146.8h0M81.6 172.9h0M84.7 173.4h0M55.8 152.6h0M63.8 162.1h0M29.9 163.0h0M87.4 168.2h0M85.0 168.5h0M49.2 166.4h0M90.2 170.9h0M41.0 163.1h0M36.2 160.5h0M62.2 172.2h0M70.7 157.7h0M36.1 167.6h0M45.7 167.6h0M43.6 160.1h0M64.5 164.3h0M72.3 151.5h0M37.4 148.2h0" stroke="#fff" stroke-width="0.90" stroke-linecap="round" fill="none"/>
<line x1="25.60" y1="165.00" x2="88.41" y2="151.68" stroke="#ee1515" stroke-width="1.6"/>
<polygon fill="#ee1515" points="93.50,150.60 88.85,153.73 87.98,149.62"/>
<text transform="translate(8.90,155.00) rotate(-90)" font-size="5.2" font-weight="bold" text-anchor="middle" fill="#222" stroke="#222" stroke-width="0.12" dy="1.82">ENC rank</text>
<text x="56.00" y="189.60" font-size="6.7" font-weight="bold" text-anchor="middle" fill="#111" stroke="#111" stroke-width="0.14">GC rank</text>
<text x="103.00" y="131.00" font-size="6.5" font-weight="bold" text-anchor="start" fill="#111" stroke="#111" stroke-width="0.14">(l)</text>
<text x="157.00" y="133.00" font-size="3.35" font-weight="normal" text-anchor="middle" fill="#333">Dictyostelium GC histogram</text>
<g stroke="#e4e4e4" stroke-width="0.4"><line x1="118.50" y1="136.60" x2="201.00" y2="136.60"/><line x1="118.50" y1="142.05" x2="201.00" y2="142.05"/><line x1="118.50" y1="147.50" x2="201.00" y2="147.50"/><line x1="118.50" y1="152.95" x2="201.00" y2="152.95"/><line x1="118.50" y1="158.40" x2="201.00" y2="158.40"/><line x1="118.50" y1="163.85" x2="201.00" y2="163.85"/><line x1="118.50" y1="169.30" x2="201.00" y2="169.30"/></g>
<text x="117.60" y="137.40" font-size="2.1" font-weight="normal" text-anchor="end" fill="#555555">1200</text>
<text x="117.60" y="142.85" font-size="2.1" font-weight="normal" text-anchor="end" fill="#555555">1000</text>
<text x="117.60" y="148.30" font-size="2.1" font-weight="normal" text-anchor="end" fill="#555555">800</text>
<text x="117.60" y="153.75" font-size="2.1" font-weight="normal" text-anchor="end" fill="#555555">600</text>
<text x="117.60" y="159.20" font-size="2.1" font-weight="normal" text-anchor="end" fill="#555555">400</text>
<text x="117.60" y="164.65" font-size="2.1" font-weight="normal" text-anchor="end" fill="#555555">200</text>
<text x="117.60" y="170.10" font-size="2.1" font-weight="normal" text-anchor="end" fill="#555555">0</text>
<path d="M131.60,169.30V168.56H133.55V168.09H135.51V167.38H137.46V166.50H139.42V164.87H141.37V162.81H143.32V159.36H145.28V155.17H147.23V151.26H149.18V148.06H151.14V145.68H153.09V142.39H155.05V141.30H157.00V142.47H158.95V145.04H160.91V148.37H162.86V152.20H164.82V155.68H166.77V159.25H168.72V162.70H170.68V164.65H172.63V165.69H174.58V166.40H176.54V167.07H178.49V167.86H180.45V168.72H182.40V169.30Z" fill="#1a6487"/>
<path d="M133.55,168.56V169.30M135.51,168.09V169.30M137.46,167.38V169.30M139.42,166.50V169.30M141.37,164.87V169.30M143.32,162.81V169.30M145.28,159.36V169.30M147.23,155.17V169.30M149.18,151.26V169.30M151.14,148.06V169.30M153.09,145.68V169.30M155.05,142.39V169.30M157.00,142.47V169.30M158.95,145.04V169.30M160.91,148.37V169.30M162.86,152.20V169.30M164.82,155.68V169.30M166.77,159.25V169.30M168.72,162.70V169.30M170.68,164.65V169.30M172.63,165.69V169.30M174.58,166.40V169.30M176.54,167.07V169.30M178.49,167.86V169.30M180.45,168.72V169.30" stroke="#fff" stroke-width="0.3" stroke-opacity="0.3"/>
<text x="120.20" y="177.52" font-size="6.2" font-weight="bold" text-anchor="middle" fill="#111" stroke="#111" stroke-width="0.14">0</text>
<text x="132.40" y="177.52" font-size="6.2" font-weight="bold" text-anchor="middle" fill="#111" stroke="#111" stroke-width="0.14">0.1</text>
<text x="147.20" y="177.52" font-size="6.2" font-weight="bold" text-anchor="middle" fill="#111" stroke="#111" stroke-width="0.14">0.2</text>
<text x="161.80" y="177.52" font-size="6.2" font-weight="bold" text-anchor="middle" fill="#111" stroke="#111" stroke-width="0.14">0.3</text>
<text x="177.40" y="177.52" font-size="6.2" font-weight="bold" text-anchor="middle" fill="#111" stroke="#111" stroke-width="0.14">0.4</text>
<text x="192.90" y="177.52" font-size="6.2" font-weight="bold" text-anchor="middle" fill="#111" stroke="#111" stroke-width="0.14">0.5</text>
<text x="158.80" y="184.20" font-size="6.7" font-weight="bold" text-anchor="middle" fill="#111" stroke="#111" stroke-width="0.14">GC content (0.00-1.00)</text>
<text transform="translate(107.50,158.30) rotate(-90)" font-size="4.6" font-weight="bold" text-anchor="middle" fill="#222" stroke="#222" stroke-width="0.12" dy="1.61">Number of genes (N)</text>
<text x="196.90" y="128.90" font-size="6.5" font-weight="bold" text-anchor="start" fill="#111" stroke="#111" stroke-width="0.14">(m)</text>
<text x="253.00" y="134.40" font-size="3.35" font-weight="normal" text-anchor="middle" fill="#333">Dictyostelium ENC histogram</text>
<g stroke="#e4e4e4" stroke-width="0.4"><line x1="214.00" y1="136.90" x2="300.00" y2="136.90"/><line x1="214.00" y1="142.03" x2="300.00" y2="142.03"/><line x1="214.00" y1="147.17" x2="300.00" y2="147.17"/><line x1="214.00" y1="152.30" x2="300.00" y2="152.30"/><line x1="214.00" y1="157.43" x2="300.00" y2="157.43"/><line x1="214.00" y1="162.57" x2="300.00" y2="162.57"/><line x1="214.00" y1="167.70" x2="300.00" y2="167.70"/></g>
<text x="213.10" y="137.70" font-size="2.1" font-weight="normal" text-anchor="end" fill="#555555">1200</text>
<text x="213.10" y="142.83" font-size="2.1" font-weight="normal" text-anchor="end" fill="#555555">1000</text>
<text x="213.10" y="147.97" font-size="2.1" font-weight="normal" text-anchor="end" fill="#555555">800</text>
<text x="213.10" y="153.10" font-size="2.1" font-weight="normal" text-anchor="end" fill="#555555">600</text>
<text x="213.10" y="158.23" font-size="2.1" font-weight="normal" text-anchor="end" fill="#555555">400</text>
<text x="213.10" y="163.37" font-size="2.1" font-weight="normal" text-anchor="end" fill="#555555">200</text>
<text x="213.10" y="168.50" font-size="2.1" font-weight="normal" text-anchor="end" fill="#555555">0</text>
<path d="M222.30,167.70V167.06H223.91V166.38H225.52V164.01H227.13V159.97H228.74V155.07H230.35V149.69H231.96V144.71H233.57V141.26H235.18V140.04H236.79V141.56H238.40V144.53H240.01V149.13H241.62V154.06H243.23V157.49H244.84V160.46H246.45V162.25H248.06V163.60H249.67V164.47H251.28V165.13H252.89V165.72H254.50V166.08H256.11V166.34H257.72V166.61H259.33V166.76H260.94V166.86H262.55V166.96H264.16V167.06H265.77V167.16H267.38V167.25H268.99V167.35H270.60V167.70Z" fill="#1a6487"/>
<path d="M223.91,167.06V167.70M225.52,166.38V167.70M227.13,164.01V167.70M228.74,159.97V167.70M230.35,155.07V167.70M231.96,149.69V167.70M233.57,144.71V167.70M235.18,141.26V167.70M236.79,141.56V167.70M238.40,144.53V167.70M240.01,149.13V167.70M241.62,154.06V167.70M243.23,157.49V167.70M244.84,160.46V167.70M246.45,162.25V167.70M248.06,163.60V167.70M249.67,164.47V167.70M251.28,165.13V167.70M252.89,165.72V167.70M254.50,166.08V167.70M256.11,166.34V167.70M257.72,166.61V167.70M259.33,166.76V167.70M260.94,166.86V167.70M262.55,166.96V167.70M264.16,167.06V167.70M265.77,167.16V167.70M267.38,167.25V167.70M268.99,167.35V167.70" stroke="#fff" stroke-width="0.3" stroke-opacity="0.3"/>
<text x="218.40" y="175.91" font-size="7.0" font-weight="bold" text-anchor="middle" fill="#111" stroke="#111" stroke-width="0.14">21</text>
<text x="237.40" y="175.91" font-size="7.0" font-weight="bold" text-anchor="middle" fill="#111" stroke="#111" stroke-width="0.14">31</text>
<text x="254.20" y="175.91" font-size="7.0" font-weight="bold" text-anchor="middle" fill="#111" stroke="#111" stroke-width="0.14">41</text>
<text x="274.00" y="175.91" font-size="7.0" font-weight="bold" text-anchor="middle" fill="#111" stroke="#111" stroke-width="0.14">51</text>
<text x="290.10" y="175.91" font-size="7.0" font-weight="bold" text-anchor="middle" fill="#111" stroke="#111" stroke-width="0.14">61</text>
<text x="256.00" y="183.70" font-size="6.7" font-weight="bold" text-anchor="middle" fill="#111" stroke="#111" stroke-width="0.14">ENC level (20-61)</text>
<text transform="translate(205.70,153.80) rotate(-90)" font-size="4.6" font-weight="bold" text-anchor="middle" fill="#222" stroke="#222" stroke-width="0.12" dy="1.61">Number of genes (N)</text>
<text x="291.00" y="128.90" font-size="6.5" font-weight="bold" text-anchor="start" fill="#111" stroke="#111" stroke-width="0.14">(n)</text>
<text x="349.00" y="134.40" font-size="3.35" font-weight="normal" text-anchor="middle" fill="#333">Dictyostelium GC rank - ENC rank</text>
<g stroke="#e4e4e4" stroke-width="0.4"><line x1="310.70" y1="133.60" x2="395.00" y2="133.60"/><line x1="310.70" y1="138.17" x2="395.00" y2="138.17"/><line x1="310.70" y1="142.74" x2="395.00" y2="142.74"/><line x1="310.70" y1="147.31" x2="395.00" y2="147.31"/><line x1="310.70" y1="151.89" x2="395.00" y2="151.89"/><line x1="310.70" y1="156.46" x2="395.00" y2="156.46"/><line x1="310.70" y1="161.03" x2="395.00" y2="161.03"/><line x1="310.70" y1="165.60" x2="395.00" y2="165.60"/></g>
<text x="309.80" y="134.40" font-size="2.1" font-weight="normal" text-anchor="end" fill="#555555">1400</text>
<text x="309.80" y="138.97" font-size="2.1" font-weight="normal" text-anchor="end" fill="#555555">1200</text>
<text x="309.80" y="143.54" font-size="2.1" font-weight="normal" text-anchor="end" fill="#555555">1000</text>
<text x="309.80" y="148.11" font-size="2.1" font-weight="normal" text-anchor="end" fill="#555555">800</text>
<text x="309.80" y="152.69" font-size="2.1" font-weight="normal" text-anchor="end" fill="#555555">600</text>
<text x="309.80" y="157.26" font-size="2.1" font-weight="normal" text-anchor="end" fill="#555555">400</text>
<text x="309.80" y="161.83" font-size="2.1" font-weight="normal" text-anchor="end" fill="#555555">200</text>
<text x="309.80" y="166.40" font-size="2.1" font-weight="normal" text-anchor="end" fill="#555555">0</text>
<path d="M311.50,165.60V165.14H313.21V165.01H314.92V164.88H316.63V164.75H318.33V164.34H320.04V163.79H321.75V163.23H323.46V162.67H325.17V162.11H326.88V161.55H328.59V160.56H330.30V159.52H332.00V158.48H333.71V157.43H335.42V156.41H337.13V155.59H338.84V154.60H340.55V152.84H342.26V150.95H343.97V148.76H345.67V146.16H347.38V143.65H349.09V142.75H350.80V144.37H352.51V147.57H354.22V149.35H355.93V151.08H357.63V152.69H359.34V153.83H361.05V155.41H362.76V157.12H364.47V158.09H366.18V158.92H367.89V159.75H369.60V160.58H371.30V161.48H373.01V162.35H374.72V162.91H376.43V163.47H378.14V163.96H379.85V164.24H381.56V164.51H383.27V164.76H384.97V164.94H386.68V165.12H388.39V165.31H390.10V165.60Z" fill="#1a6487"/>
<path d="M313.21,165.14V165.60M314.92,165.01V165.60M316.63,164.88V165.60M318.33,164.75V165.60M320.04,164.34V165.60M321.75,163.79V165.60M323.46,163.23V165.60M325.17,162.67V165.60M326.88,162.11V165.60M328.59,161.55V165.60M330.30,160.56V165.60M332.00,159.52V165.60M333.71,158.48V165.60M335.42,157.43V165.60M337.13,156.41V165.60M338.84,155.59V165.60M340.55,154.60V165.60M342.26,152.84V165.60M343.97,150.95V165.60M345.67,148.76V165.60M347.38,146.16V165.60M349.09,143.65V165.60M350.80,144.37V165.60M352.51,147.57V165.60M354.22,149.35V165.60M355.93,151.08V165.60M357.63,152.69V165.60M359.34,153.83V165.60M361.05,155.41V165.60M362.76,157.12V165.60M364.47,158.09V165.60M366.18,158.92V165.60M367.89,159.75V165.60M369.60,160.58V165.60M371.30,161.48V165.60M373.01,162.35V165.60M374.72,162.91V165.60M376.43,163.47V165.60M378.14,163.96V165.60M379.85,164.24V165.60M381.56,164.51V165.60M383.27,164.76V165.60M384.97,164.94V165.60M386.68,165.12V165.60M388.39,165.31V165.60" stroke="#fff" stroke-width="0.3" stroke-opacity="0.3"/>
<text x="323.10" y="172.46" font-size="6.6" font-weight="bold" text-anchor="middle" fill="#111" stroke="#111" stroke-width="0.14">-13,000</text>
<text x="349.50" y="172.46" font-size="6.6" font-weight="bold" text-anchor="middle" fill="#111" stroke="#111" stroke-width="0.14">0</text>
<text x="379.30" y="172.46" font-size="6.6" font-weight="bold" text-anchor="middle" fill="#111" stroke="#111" stroke-width="0.14">13,000</text>
<text x="351.20" y="179.90" font-size="6.7" font-weight="bold" text-anchor="middle" fill="#111" stroke="#111" stroke-width="0.14">GC rank - ENC rank</text>
<text transform="translate(301.50,155.20) rotate(-90)" font-size="4.6" font-weight="bold" text-anchor="middle" fill="#222" stroke="#222" stroke-width="0.12" dy="1.61">Number of genes (N)</text>
<text x="388.00" y="128.40" font-size="6.5" font-weight="bold" text-anchor="start" fill="#111" stroke="#111" stroke-width="0.14">(o)</text>
<text x="447.00" y="134.00" font-size="3.35" font-weight="normal" text-anchor="middle" fill="#333">Dictyostelium GC rank +ENC rank</text>
<g stroke="#e4e4e4" stroke-width="0.4"><line x1="406.00" y1="134.30" x2="493.00" y2="134.30"/><line x1="406.00" y1="137.71" x2="493.00" y2="137.71"/><line x1="406.00" y1="141.12" x2="493.00" y2="141.12"/><line x1="406.00" y1="144.53" x2="493.00" y2="144.53"/><line x1="406.00" y1="147.94" x2="493.00" y2="147.94"/><line x1="406.00" y1="151.36" x2="493.00" y2="151.36"/><line x1="406.00" y1="154.77" x2="493.00" y2="154.77"/><line x1="406.00" y1="158.18" x2="493.00" y2="158.18"/><line x1="406.00" y1="161.59" x2="493.00" y2="161.59"/><line x1="406.00" y1="165.00" x2="493.00" y2="165.00"/></g>
<text x="405.10" y="135.10" font-size="2.1" font-weight="normal" text-anchor="end" fill="#555555">900</text>
<text x="405.10" y="138.51" font-size="2.1" font-weight="normal" text-anchor="end" fill="#555555">800</text>
<text x="405.10" y="141.92" font-size="2.1" font-weight="normal" text-anchor="end" fill="#555555">700</text>
<text x="405.10" y="145.33" font-size="2.1" font-weight="normal" text-anchor="end" fill="#555555">600</text>
<text x="405.10" y="148.74" font-size="2.1" font-weight="normal" text-anchor="end" fill="#555555">500</text>
<text x="405.10" y="152.16" font-size="2.1" font-weight="normal" text-anchor="end" fill="#555555">400</text>
<text x="405.10" y="155.57" font-size="2.1" font-weight="normal" text-anchor="end" fill="#555555">300</text>
<text x="405.10" y="158.98" font-size="2.1" font-weight="normal" text-anchor="end" fill="#555555">200</text>
<text x="405.10" y="162.39" font-size="2.1" font-weight="normal" text-anchor="end" fill="#555555">100</text>
<text x="405.10" y="165.80" font-size="2.1" font-weight="normal" text-anchor="end" fill="#555555">0</text>
<path d="M408.30,165.00V160.80H411.25V157.40H414.20V155.60H417.15V152.70H420.10V152.70H423.05V150.90H426.00V148.80H428.95V147.10H431.90V147.10H434.85V146.80H437.80V145.40H440.75V144.20H443.70V140.60H446.65V141.60H449.60V142.30H452.55V142.80H455.50V144.50H458.45V145.40H461.40V146.20H464.35V147.10H467.30V147.40H470.25V149.30H473.20V149.30H476.15V150.90H479.10V155.60H482.05V157.70H485.00V160.40H487.95V165.00Z" fill="#1a6487"/>
<path d="M411.25,160.80V165.00M414.20,157.40V165.00M417.15,155.60V165.00M420.10,152.70V165.00M423.05,152.70V165.00M426.00,150.90V165.00M428.95,148.80V165.00M431.90,147.10V165.00M434.85,147.10V165.00M437.80,146.80V165.00M440.75,145.40V165.00M443.70,144.20V165.00M446.65,141.60V165.00M449.60,142.30V165.00M452.55,142.80V165.00M455.50,144.50V165.00M458.45,145.40V165.00M461.40,146.20V165.00M464.35,147.10V165.00M467.30,147.40V165.00M470.25,149.30V165.00M473.20,149.30V165.00M476.15,150.90V165.00M479.10,155.60V165.00M482.05,157.70V165.00M485.00,160.40V165.00" stroke="#fff" stroke-width="0.3" stroke-opacity="0.3"/>
<text x="408.30" y="173.26" font-size="6.6" font-weight="bold" text-anchor="middle" fill="#111" stroke="#111" stroke-width="0.14">0</text>
<text x="445.30" y="173.26" font-size="6.6" font-weight="bold" text-anchor="middle" fill="#111" stroke="#111" stroke-width="0.14">13,000</text>
<text x="480.80" y="173.26" font-size="6.6" font-weight="bold" text-anchor="middle" fill="#111" stroke="#111" stroke-width="0.14">26,000</text>
<text x="448.10" y="180.40" font-size="6.7" font-weight="bold" text-anchor="middle" fill="#111" stroke="#111" stroke-width="0.14">GC rank + ENC rank</text>
<text transform="translate(397.00,154.70) rotate(-90)" font-size="4.6" font-weight="bold" text-anchor="middle" fill="#222" stroke="#222" stroke-width="0.12" dy="1.61">Number of genes (N)</text>
<rect x="13" y="191" width="87" height="55" fill="none" stroke="#ececec" stroke-width="0.5"/>
<text x="2.90" y="190.20" font-size="6.5" font-weight="bold" text-anchor="start" fill="#111" stroke="#111" stroke-width="0.14">(p)</text>
<text x="47.00" y="194.00" font-size="3.35" font-weight="normal" text-anchor="middle" fill="#333">Arabidopsis ENC rank vs GC rank scatter</text>
<text x="89.00" y="193.00" font-size="2.0" font-weight="normal" text-anchor="middle" fill="#777">y = 0.7026x + 2857.4</text>
<text x="89.00" y="195.60" font-size="2.0" font-weight="normal" text-anchor="middle" fill="#777">R² = 0.4365</text>
<g stroke="#e4e4e4" stroke-width="0.4"><line x1="25.60" y1="198.50" x2="98.00" y2="198.50"/><line x1="25.60" y1="205.25" x2="98.00" y2="205.25"/><line x1="25.60" y1="212.00" x2="98.00" y2="212.00"/><line x1="25.60" y1="218.75" x2="98.00" y2="218.75"/><line x1="25.60" y1="225.50" x2="98.00" y2="225.50"/><line x1="25.60" y1="232.25" x2="98.00" y2="232.25"/><line x1="25.60" y1="239.00" x2="98.00" y2="239.00"/></g>
<text x="24.80" y="199.30" font-size="2.2" font-weight="normal" text-anchor="end" fill="#555555">12000.00</text>
<text x="24.80" y="206.05" font-size="2.2" font-weight="normal" text-anchor="end" fill="#555555">10000.00</text>
<text x="24.80" y="212.80" font-size="2.2" font-weight="normal" text-anchor="end" fill="#555555">8000.00</text>
<text x="24.80" y="219.55" font-size="2.2" font-weight="normal" text-anchor="end" fill="#555555">6000.00</text>
<text x="24.80" y="226.30" font-size="2.2" font-weight="normal" text-anchor="end" fill="#555555">4000.00</text>
<text x="24.80" y="233.05" font-size="2.2" font-weight="normal" text-anchor="end" fill="#555555">2000.00</text>
<text x="24.80" y="239.80" font-size="2.2" font-weight="normal" text-anchor="end" fill="#555555">0.00</text>
<line x1="98" y1="198.5" x2="98" y2="239" stroke="#e4e4e4" stroke-width="0.4"/>
<text x="26.00" y="242.40" font-size="2.2" font-weight="normal" text-anchor="middle" fill="#555555">0</text>
<text x="38.00" y="242.40" font-size="2.2" font-weight="normal" text-anchor="middle" fill="#555555">2000</text>
<text x="50.00" y="242.40" font-size="2.2" font-weight="normal" text-anchor="middle" fill="#555555">4000</text>
<text x="62.00" y="242.40" font-size="2.2" font-weight="normal" text-anchor="middle" fill="#555555">6000</text>
<text x="74.00" y="242.40" font-size="2.2" font-weight="normal" text-anchor="middle" fill="#555555">8000</text>
<text x="86.00" y="242.40" font-size="2.2" font-weight="normal" text-anchor="middle" fill="#555555">10000</text>
<text x="98.00" y="242.40" font-size="2.2" font-weight="normal" text-anchor="middle" fill="#555555">12000</text>
<rect x="25.6" y="204" width="61.99999999999999" height="35" fill="#1a6487"/>
<path d="M31.1 231.1h0M52.1 227.0h0M55.8 218.7h0M69.7 211.5h0M39.7 222.4h0M74.9 215.3h0M44.7 236.6h0M65.3 210.5h0" stroke="#fff" stroke-width="0.90" stroke-linecap="round" fill="none"/>
<line x1="25.60" y1="225.00" x2="82.83" y2="218.58" stroke="#ee1515" stroke-width="1.6"/>
<polygon fill="#ee1515" points="88.00,218.00 83.07,220.67 82.60,216.49"/>
<text transform="translate(11.00,218.20) rotate(-90)" font-size="5.2" font-weight="bold" text-anchor="middle" fill="#222" stroke="#222" stroke-width="0.12" dy="1.82">ENC rank</text>
<text x="56.00" y="250.80" font-size="6.7" font-weight="bold" text-anchor="middle" fill="#111" stroke="#111" stroke-width="0.14">GC rank</text>
<text x="102.00" y="190.00" font-size="6.5" font-weight="bold" text-anchor="start" fill="#111" stroke="#111" stroke-width="0.14">(q)</text>
<text x="157.00" y="193.60" font-size="3.35" font-weight="normal" text-anchor="middle" fill="#333">Arabidopsis GC histogram</text>
<g stroke="#e4e4e4" stroke-width="0.4"><line x1="118.50" y1="193.30" x2="201.00" y2="193.30"/><line x1="118.50" y1="196.93" x2="201.00" y2="196.93"/><line x1="118.50" y1="200.56" x2="201.00" y2="200.56"/><line x1="118.50" y1="204.19" x2="201.00" y2="204.19"/><line x1="118.50" y1="207.82" x2="201.00" y2="207.82"/><line x1="118.50" y1="211.45" x2="201.00" y2="211.45"/><line x1="118.50" y1="215.08" x2="201.00" y2="215.08"/><line x1="118.50" y1="218.71" x2="201.00" y2="218.71"/><line x1="118.50" y1="222.34" x2="201.00" y2="222.34"/><line x1="118.50" y1="225.97" x2="201.00" y2="225.97"/><line x1="118.50" y1="229.60" x2="201.00" y2="229.60"/></g>
<text x="117.60" y="194.10" font-size="2.1" font-weight="normal" text-anchor="end" fill="#555555">2000</text>
<text x="117.60" y="197.73" font-size="2.1" font-weight="normal" text-anchor="end" fill="#555555">1800</text>
<text x="117.60" y="201.36" font-size="2.1" font-weight="normal" text-anchor="end" fill="#555555">1600</text>
<text x="117.60" y="204.99" font-size="2.1" font-weight="normal" text-anchor="end" fill="#555555">1400</text>
<text x="117.60" y="208.62" font-size="2.1" font-weight="normal" text-anchor="end" fill="#555555">1200</text>
<text x="117.60" y="212.25" font-size="2.1" font-weight="normal" text-anchor="end" fill="#555555">1000</text>
<text x="117.60" y="215.88" font-size="2.1" font-weight="normal" text-anchor="end" fill="#555555">800</text>
<text x="117.60" y="219.51" font-size="2.1" font-weight="normal" text-anchor="end" fill="#555555">600</text>
<text x="117.60" y="223.14" font-size="2.1" font-weight="normal" text-anchor="end" fill="#555555">400</text>
<text x="117.60" y="226.77" font-size="2.1" font-weight="normal" text-anchor="end" fill="#555555">200</text>
<text x="117.60" y="230.40" font-size="2.1" font-weight="normal" text-anchor="end" fill="#555555">0</text>
<path d="M131.60,229.60V229.08H133.81V228.63H136.02V227.90H138.23V226.26H140.43V223.29H142.64V217.31H144.85V209.91H147.06V204.13H149.27V202.72H151.48V201.65H153.69V205.66H155.90V211.93H158.10V215.99H160.31V220.17H162.52V222.69H164.73V224.72H166.94V226.15H169.15V227.08H171.36V227.95H173.57V228.45H175.77V228.90H177.98V229.30H180.19V229.50H182.40V229.60Z" fill="#1a6487"/>
<path d="M133.81,229.08V229.60M136.02,228.63V229.60M138.23,227.90V229.60M140.43,226.26V229.60M142.64,223.29V229.60M144.85,217.31V229.60M147.06,209.91V229.60M149.27,204.13V229.60M151.48,202.72V229.60M153.69,205.66V229.60M155.90,211.93V229.60M158.10,215.99V229.60M160.31,220.17V229.60M162.52,222.69V229.60M164.73,224.72V229.60M166.94,226.15V229.60M169.15,227.08V229.60M171.36,227.95V229.60M173.57,228.45V229.60M175.77,228.90V229.60M177.98,229.30V229.60M180.19,229.50V229.60" stroke="#fff" stroke-width="0.3" stroke-opacity="0.3"/>
<text x="122.90" y="235.66" font-size="6.3" font-weight="bold" text-anchor="middle" fill="#111" stroke="#111" stroke-width="0.14">0.3</text>
<text x="140.20" y="235.66" font-size="6.3" font-weight="bold" text-anchor="middle" fill="#111" stroke="#111" stroke-width="0.14">0.4</text>
<text x="157.10" y="235.66" font-size="6.3" font-weight="bold" text-anchor="middle" fill="#111" stroke="#111" stroke-width="0.14">0.5</text>
<text x="173.90" y="235.66" font-size="6.3" font-weight="bold" text-anchor="middle" fill="#111" stroke="#111" stroke-width="0.14">0.6</text>
<text x="190.30" y="235.66" font-size="6.3" font-weight="bold" text-anchor="middle" fill="#111" stroke="#111" stroke-width="0.14">0.7</text>
<text x="157.50" y="242.90" font-size="6.7" font-weight="bold" text-anchor="middle" fill="#111" stroke="#111" stroke-width="0.14">GC content (0.00-1.00)</text>
<text transform="translate(108.20,216.70) rotate(-90)" font-size="4.6" font-weight="bold" text-anchor="middle" fill="#222" stroke="#222" stroke-width="0.12" dy="1.61">Number of genes (N)</text>
<text x="198.00" y="188.70" font-size="6.5" font-weight="bold" text-anchor="start" fill="#111" stroke="#111" stroke-width="0.14">(r)</text>
<text x="253.00" y="193.60" font-size="3.35" font-weight="normal" text-anchor="middle" fill="#333">Arabidopsis ENC histogram</text>
<g stroke="#e4e4e4" stroke-width="0.4"><line x1="212.80" y1="194.40" x2="300.00" y2="194.40"/><line x1="212.80" y1="197.68" x2="300.00" y2="197.68"/><line x1="212.80" y1="200.96" x2="300.00" y2="200.96"/><line x1="212.80" y1="204.24" x2="300.00" y2="204.24"/><line x1="212.80" y1="207.52" x2="300.00" y2="207.52"/><line x1="212.80" y1="210.80" x2="300.00" y2="210.80"/><line x1="212.80" y1="214.08" x2="300.00" y2="214.08"/><line x1="212.80" y1="217.36" x2="300.00" y2="217.36"/><line x1="212.80" y1="220.64" x2="300.00" y2="220.64"/><line x1="212.80" y1="223.92" x2="300.00" y2="223.92"/><line x1="212.80" y1="227.20" x2="300.00" y2="227.20"/></g>
<text x="211.90" y="195.20" font-size="2.1" font-weight="normal" text-anchor="end" fill="#555555">1000</text>
<text x="211.90" y="198.48" font-size="2.1" font-weight="normal" text-anchor="end" fill="#555555">900</text>
<text x="211.90" y="201.76" font-size="2.1" font-weight="normal" text-anchor="end" fill="#555555">800</text>
<text x="211.90" y="205.04" font-size="2.1" font-weight="normal" text-anchor="end" fill="#555555">700</text>
<text x="211.90" y="208.32" font-size="2.1" font-weight="normal" text-anchor="end" fill="#555555">600</text>
<text x="211.90" y="211.60" font-size="2.1" font-weight="normal" text-anchor="end" fill="#555555">500</text>
<text x="211.90" y="214.88" font-size="2.1" font-weight="normal" text-anchor="end" fill="#555555">400</text>
<text x="211.90" y="218.16" font-size="2.1" font-weight="normal" text-anchor="end" fill="#555555">300</text>
<text x="211.90" y="221.44" font-size="2.1" font-weight="normal" text-anchor="end" fill="#555555">200</text>
<text x="211.90" y="224.72" font-size="2.1" font-weight="normal" text-anchor="end" fill="#555555">100</text>
<text x="211.90" y="228.00" font-size="2.1" font-weight="normal" text-anchor="end" fill="#555555">0</text>
<path d="M239.50,227.20V226.97H240.81V226.91H242.13V226.85H243.44V226.79H244.76V226.73H246.07V226.58H247.38V226.36H248.70V226.14H250.01V225.92H251.33V225.70H252.64V225.47H253.95V225.23H255.27V224.99H256.58V224.75H257.90V224.44H259.21V224.11H260.52V223.62H261.84V222.87H263.15V222.11H264.47V220.65H265.78V219.08H267.09V216.86H268.41V214.60H269.72V212.18H271.03V209.67H272.35V206.82H273.66V204.48H274.98V202.90H276.29V201.94H277.60V201.61H278.92V202.20H280.23V203.25H281.55V205.55H282.86V208.23H284.17V211.21H285.49V214.19H286.80V216.76H288.12V219.30H289.43V221.54H290.74V223.50H292.06V224.82H293.37V225.98H294.69V219.80H296.00V227.20Z" fill="#1a6487"/>
<path d="M240.81,226.97V227.20M242.13,226.91V227.20M243.44,226.85V227.20M244.76,226.79V227.20M246.07,226.73V227.20M247.38,226.58V227.20M248.70,226.36V227.20M250.01,226.14V227.20M251.33,225.92V227.20M252.64,225.70V227.20M253.95,225.47V227.20M255.27,225.23V227.20M256.58,224.99V227.20M257.90,224.75V227.20M259.21,224.44V227.20M260.52,224.11V227.20M261.84,223.62V227.20M263.15,222.87V227.20M264.47,222.11V227.20M265.78,220.65V227.20M267.09,219.08V227.20M268.41,216.86V227.20M269.72,214.60V227.20M271.03,212.18V227.20M272.35,209.67V227.20M273.66,206.82V227.20M274.98,204.48V227.20M276.29,202.90V227.20M277.60,201.94V227.20M278.92,202.20V227.20M280.23,203.25V227.20M281.55,205.55V227.20M282.86,208.23V227.20M284.17,211.21V227.20M285.49,214.19V227.20M286.80,216.76V227.20M288.12,219.30V227.20M289.43,221.54V227.20M290.74,223.50V227.20M292.06,224.82V227.20M293.37,225.98V227.20M294.69,225.98V227.20" stroke="#fff" stroke-width="0.3" stroke-opacity="0.3"/>
<text x="224.90" y="234.91" font-size="7.0" font-weight="bold" text-anchor="middle" fill="#111" stroke="#111" stroke-width="0.14">21</text>
<text x="241.70" y="234.91" font-size="7.0" font-weight="bold" text-anchor="middle" fill="#111" stroke="#111" stroke-width="0.14">31</text>
<text x="259.00" y="234.91" font-size="7.0" font-weight="bold" text-anchor="middle" fill="#111" stroke="#111" stroke-width="0.14">41</text>
<text x="275.40" y="234.91" font-size="7.0" font-weight="bold" text-anchor="middle" fill="#111" stroke="#111" stroke-width="0.14">51</text>
<text x="291.80" y="234.91" font-size="7.0" font-weight="bold" text-anchor="middle" fill="#111" stroke="#111" stroke-width="0.14">61</text>
<text x="263.30" y="242.50" font-size="6.7" font-weight="bold" text-anchor="middle" fill="#111" stroke="#111" stroke-width="0.14">ENC level (20-61)</text>
<text transform="translate(206.00,214.50) rotate(-90)" font-size="4.6" font-weight="bold" text-anchor="middle" fill="#222" stroke="#222" stroke-width="0.12" dy="1.61">Number of genes (N)</text>
<text x="292.00" y="189.80" font-size="6.5" font-weight="bold" text-anchor="start" fill="#111" stroke="#111" stroke-width="0.14">(s)</text>
<text x="349.00" y="194.00" font-size="3.35" font-weight="normal" text-anchor="middle" fill="#333">Arabidopsis GC rank - ENC rank</text>
<g stroke="#e4e4e4" stroke-width="0.4"><line x1="310.70" y1="194.70" x2="395.00" y2="194.70"/><line x1="310.70" y1="197.70" x2="395.00" y2="197.70"/><line x1="310.70" y1="200.70" x2="395.00" y2="200.70"/><line x1="310.70" y1="203.70" x2="395.00" y2="203.70"/><line x1="310.70" y1="206.70" x2="395.00" y2="206.70"/><line x1="310.70" y1="209.70" x2="395.00" y2="209.70"/><line x1="310.70" y1="212.70" x2="395.00" y2="212.70"/><line x1="310.70" y1="215.70" x2="395.00" y2="215.70"/><line x1="310.70" y1="218.70" x2="395.00" y2="218.70"/><line x1="310.70" y1="221.70" x2="395.00" y2="221.70"/><line x1="310.70" y1="224.70" x2="395.00" y2="224.70"/></g>
<text x="309.80" y="195.50" font-size="2.1" font-weight="normal" text-anchor="end" fill="#555555">1000</text>
<text x="309.80" y="198.50" font-size="2.1" font-weight="normal" text-anchor="end" fill="#555555">900</text>
<text x="309.80" y="201.50" font-size="2.1" font-weight="normal" text-anchor="end" fill="#555555">800</text>
<text x="309.80" y="204.50" font-size="2.1" font-weight="normal" text-anchor="end" fill="#555555">700</text>
<text x="309.80" y="207.50" font-size="2.1" font-weight="normal" text-anchor="end" fill="#555555">600</text>
<text x="309.80" y="210.50" font-size="2.1" font-weight="normal" text-anchor="end" fill="#555555">500</text>
<text x="309.80" y="213.50" font-size="2.1" font-weight="normal" text-anchor="end" fill="#555555">400</text>
<text x="309.80" y="216.50" font-size="2.1" font-weight="normal" text-anchor="end" fill="#555555">300</text>
<text x="309.80" y="219.50" font-size="2.1" font-weight="normal" text-anchor="end" fill="#555555">200</text>
<text x="309.80" y="222.50" font-size="2.1" font-weight="normal" text-anchor="end" fill="#555555">100</text>
<text x="309.80" y="225.50" font-size="2.1" font-weight="normal" text-anchor="end" fill="#555555">0</text>
<path d="M310.70,224.70V224.25H313.13V223.95H315.57V222.94H318.00V221.89H320.43V221.00H322.87V220.01H325.30V218.87H327.73V217.66H330.17V216.26H332.60V213.08H335.03V210.60H337.47V207.39H339.90V204.18H342.33V201.75H344.77V199.40H347.20V199.43H349.63V204.40H352.07V209.17H354.50V210.82H356.93V213.25H359.37V215.39H361.80V216.77H364.23V217.70H366.67V218.65H369.10V219.75H371.53V220.60H373.97V221.23H376.40V221.76H378.83V221.60H381.27V221.84H383.70V222.51H386.13V223.50H388.57V224.11H391.00V224.70Z" fill="#1a6487"/>
<path d="M313.13,224.25V224.70M315.57,223.95V224.70M318.00,222.94V224.70M320.43,221.89V224.70M322.87,221.00V224.70M325.30,220.01V224.70M327.73,218.87V224.70M330.17,217.66V224.70M332.60,216.26V224.70M335.03,213.08V224.70M337.47,210.60V224.70M339.90,207.39V224.70M342.33,204.18V224.70M344.77,201.75V224.70M347.20,199.43V224.70M349.63,204.40V224.70M352.07,209.17V224.70M354.50,210.82V224.70M356.93,213.25V224.70M359.37,215.39V224.70M361.80,216.77V224.70M364.23,217.70V224.70M366.67,218.65V224.70M369.10,219.75V224.70M371.53,220.60V224.70M373.97,221.23V224.70M376.40,221.76V224.70M378.83,221.76V224.70M381.27,221.84V224.70M383.70,222.51V224.70M386.13,223.50V224.70M388.57,224.11V224.70" stroke="#fff" stroke-width="0.3" stroke-opacity="0.3"/>
<text x="321.00" y="232.36" font-size="6.6" font-weight="bold" text-anchor="middle" fill="#111" stroke="#111" stroke-width="0.14">-10,000</text>
<text x="348.20" y="232.36" font-size="6.6" font-weight="bold" text-anchor="middle" fill="#111" stroke="#111" stroke-width="0.14">0</text>
<text x="379.70" y="232.36" font-size="6.6" font-weight="bold" text-anchor="middle" fill="#111" stroke="#111" stroke-width="0.14">10,000</text>
<text x="350.30" y="240.00" font-size="6.7" font-weight="bold" text-anchor="middle" fill="#111" stroke="#111" stroke-width="0.14">GC rank - ENC rank</text>
<text transform="translate(301.70,214.10) rotate(-90)" font-size="4.6" font-weight="bold" text-anchor="middle" fill="#222" stroke="#222" stroke-width="0.12" dy="1.61">Number of genes (N)</text>
<text x="388.00" y="189.30" font-size="6.5" font-weight="bold" text-anchor="start" fill="#111" stroke="#111" stroke-width="0.14">(t)</text>
<text x="447.00" y="193.00" font-size="3.35" font-weight="normal" text-anchor="middle" fill="#333">Arabidopsis GC rank + ENC rank</text>
<g stroke="#e4e4e4" stroke-width="0.4"><line x1="406.00" y1="196.00" x2="493.00" y2="196.00"/><line x1="406.00" y1="199.03" x2="493.00" y2="199.03"/><line x1="406.00" y1="202.07" x2="493.00" y2="202.07"/><line x1="406.00" y1="205.10" x2="493.00" y2="205.10"/><line x1="406.00" y1="208.13" x2="493.00" y2="208.13"/><line x1="406.00" y1="211.17" x2="493.00" y2="211.17"/><line x1="406.00" y1="214.20" x2="493.00" y2="214.20"/><line x1="406.00" y1="217.23" x2="493.00" y2="217.23"/><line x1="406.00" y1="220.27" x2="493.00" y2="220.27"/><line x1="406.00" y1="223.30" x2="493.00" y2="223.30"/></g>
<text x="405.10" y="196.80" font-size="2.1" font-weight="normal" text-anchor="end" fill="#555555">900</text>
<text x="405.10" y="199.83" font-size="2.1" font-weight="normal" text-anchor="end" fill="#555555">800</text>
<text x="405.10" y="202.87" font-size="2.1" font-weight="normal" text-anchor="end" fill="#555555">700</text>
<text x="405.10" y="205.90" font-size="2.1" font-weight="normal" text-anchor="end" fill="#555555">600</text>
<text x="405.10" y="208.93" font-size="2.1" font-weight="normal" text-anchor="end" fill="#555555">500</text>
<text x="405.10" y="211.97" font-size="2.1" font-weight="normal" text-anchor="end" fill="#555555">400</text>
<text x="405.10" y="215.00" font-size="2.1" font-weight="normal" text-anchor="end" fill="#555555">300</text>
<text x="405.10" y="218.03" font-size="2.1" font-weight="normal" text-anchor="end" fill="#555555">200</text>
<text x="405.10" y="221.07" font-size="2.1" font-weight="normal" text-anchor="end" fill="#555555">100</text>
<text x="405.10" y="224.10" font-size="2.1" font-weight="normal" text-anchor="end" fill="#555555">0</text>
<path d="M408.00,223.30V220.30H410.90V218.20H413.80V217.40H416.70V216.50H419.60V215.30H422.50V213.90H425.40V212.70H428.30V211.90H431.20V211.40H434.10V209.30H437.00V207.10H439.90V205.90H442.80V205.70H445.70V203.30H448.60V199.90H451.50V201.60H454.40V202.30H457.30V204.50H460.20V207.90H463.10V208.30H466.00V210.20H468.90V211.90H471.80V212.20H474.70V212.70H477.60V215.60H480.50V217.40H483.40V219.40H486.30V222.50H489.20V223.30Z" fill="#1a6487"/>
<path d="M410.90,220.30V223.30M413.80,218.20V223.30M416.70,217.40V223.30M419.60,216.50V223.30M422.50,215.30V223.30M425.40,213.90V223.30M428.30,212.70V223.30M431.20,211.90V223.30M434.10,211.40V223.30M437.00,209.30V223.30M439.90,207.10V223.30M442.80,205.90V223.30M445.70,205.70V223.30M448.60,203.30V223.30M451.50,201.60V223.30M454.40,202.30V223.30M457.30,204.50V223.30M460.20,207.90V223.30M463.10,208.30V223.30M466.00,210.20V223.30M468.90,211.90V223.30M471.80,212.20V223.30M474.70,212.70V223.30M477.60,215.60V223.30M480.50,217.40V223.30M483.40,219.40V223.30M486.30,222.50V223.30" stroke="#fff" stroke-width="0.3" stroke-opacity="0.3"/>
<text x="410.00" y="230.16" font-size="6.6" font-weight="bold" text-anchor="middle" fill="#111" stroke="#111" stroke-width="0.14">0</text>
<text x="446.20" y="230.16" font-size="6.6" font-weight="bold" text-anchor="middle" fill="#111" stroke="#111" stroke-width="0.14">10,000</text>
<text x="480.80" y="230.16" font-size="6.6" font-weight="bold" text-anchor="middle" fill="#111" stroke="#111" stroke-width="0.14">20,000</text>
<text x="450.50" y="239.70" font-size="6.7" font-weight="bold" text-anchor="middle" fill="#111" stroke="#111" stroke-width="0.14">GC rank + ENC rank</text>
<text transform="translate(398.70,210.90) rotate(-90)" font-size="4.6" font-weight="bold" text-anchor="middle" fill="#222" stroke="#222" stroke-width="0.12" dy="1.61">Number of genes (N)</text>
<rect x="13" y="252" width="91" height="52" fill="none" stroke="#ececec" stroke-width="0.5"/>
<text x="2.90" y="252.70" font-size="6.5" font-weight="bold" text-anchor="start" fill="#111" stroke="#111" stroke-width="0.14">(u)</text>
<text x="51.00" y="255.60" font-size="3.35" font-weight="normal" text-anchor="middle" fill="#333">Plasmodium ENC rank vs GC rank scatter</text>
<text x="92.00" y="254.00" font-size="2.0" font-weight="normal" text-anchor="middle" fill="#777">y = 0.7026x + 2857.4</text>
<text x="92.00" y="256.60" font-size="2.0" font-weight="normal" text-anchor="middle" fill="#777">R² = 0.4365</text>
<g stroke="#e4e4e4" stroke-width="0.4"><line x1="25.60" y1="258.50" x2="101.00" y2="258.50"/><line x1="25.60" y1="265.25" x2="101.00" y2="265.25"/><line x1="25.60" y1="272.00" x2="101.00" y2="272.00"/><line x1="25.60" y1="278.75" x2="101.00" y2="278.75"/><line x1="25.60" y1="285.50" x2="101.00" y2="285.50"/><line x1="25.60" y1="292.25" x2="101.00" y2="292.25"/><line x1="25.60" y1="299.00" x2="101.00" y2="299.00"/></g>
<text x="24.80" y="259.30" font-size="2.2" font-weight="normal" text-anchor="end" fill="#555555">12000.00</text>
<text x="24.80" y="266.05" font-size="2.2" font-weight="normal" text-anchor="end" fill="#555555">10000.00</text>
<text x="24.80" y="272.80" font-size="2.2" font-weight="normal" text-anchor="end" fill="#555555">8000.00</text>
<text x="24.80" y="279.55" font-size="2.2" font-weight="normal" text-anchor="end" fill="#555555">6000.00</text>
<text x="24.80" y="286.30" font-size="2.2" font-weight="normal" text-anchor="end" fill="#555555">4000.00</text>
<text x="24.80" y="293.05" font-size="2.2" font-weight="normal" text-anchor="end" fill="#555555">2000.00</text>
<text x="24.80" y="299.80" font-size="2.2" font-weight="normal" text-anchor="end" fill="#555555">0.00</text>
<line x1="101" y1="258.5" x2="101" y2="299" stroke="#e4e4e4" stroke-width="0.4"/>
<text x="26.00" y="302.40" font-size="2.2" font-weight="normal" text-anchor="middle" fill="#555555">0</text>
<text x="38.50" y="302.40" font-size="2.2" font-weight="normal" text-anchor="middle" fill="#555555">2000</text>
<text x="51.00" y="302.40" font-size="2.2" font-weight="normal" text-anchor="middle" fill="#555555">4000</text>
<text x="63.50" y="302.40" font-size="2.2" font-weight="normal" text-anchor="middle" fill="#555555">6000</text>
<text x="76.00" y="302.40" font-size="2.2" font-weight="normal" text-anchor="middle" fill="#555555">8000</text>
<text x="88.50" y="302.40" font-size="2.2" font-weight="normal" text-anchor="middle" fill="#555555">10000</text>
<text x="101.00" y="302.40" font-size="2.2" font-weight="normal" text-anchor="middle" fill="#555555">12000</text>
<rect x="25.6" y="263.4" width="66.4" height="35.60000000000002" fill="#1a6487"/>
<path d="M80.6 290.4h0M35.2 269.5h0M29.2 263.8h0M56.7 279.1h0M86.6 276.8h0M91.0 278.9h0M65.1 291.0h0M37.4 265.9h0M88.3 276.6h0M69.1 263.4h0M44.6 267.2h0M50.1 263.5h0M91.4 275.4h0M50.2 271.4h0M39.9 263.6h0M59.0 292.5h0M51.8 280.5h0M57.6 284.4h0M51.1 273.3h0M51.2 287.1h0M38.0 265.3h0M35.5 269.5h0M31.1 268.5h0M67.7 264.8h0M84.6 278.1h0M29.6 271.9h0M44.2 282.1h0M65.3 286.1h0M39.8 291.6h0M41.3 266.5h0M38.7 265.7h0M39.2 263.7h0M34.3 269.7h0M51.0 279.8h0M81.6 275.2h0M36.8 265.2h0M25.9 287.4h0" stroke="#fff" stroke-width="0.90" stroke-linecap="round" fill="none"/>
<line x1="25.60" y1="285.00" x2="86.33" y2="278.55" stroke="#ee1515" stroke-width="1.6"/>
<polygon fill="#ee1515" points="91.50,278.00 86.55,280.64 86.11,276.46"/>
<text transform="translate(10.50,277.00) rotate(-90)" font-size="5.2" font-weight="bold" text-anchor="middle" fill="#222" stroke="#222" stroke-width="0.12" dy="1.82">ENC rank</text>
<text x="56.00" y="311.60" font-size="6.7" font-weight="bold" text-anchor="middle" fill="#111" stroke="#111" stroke-width="0.14">GC rank</text>
<text x="99.10" y="252.60" font-size="6.5" font-weight="bold" text-anchor="start" fill="#111" stroke="#111" stroke-width="0.14">(v)</text>
<text x="157.00" y="255.00" font-size="3.35" font-weight="normal" text-anchor="middle" fill="#333">Plasmodium GC histogram</text>
<g stroke="#e4e4e4" stroke-width="0.4"><line x1="118.50" y1="258.20" x2="201.00" y2="258.20"/><line x1="118.50" y1="263.58" x2="201.00" y2="263.58"/><line x1="118.50" y1="268.97" x2="201.00" y2="268.97"/><line x1="118.50" y1="274.35" x2="201.00" y2="274.35"/><line x1="118.50" y1="279.73" x2="201.00" y2="279.73"/><line x1="118.50" y1="285.12" x2="201.00" y2="285.12"/><line x1="118.50" y1="290.50" x2="201.00" y2="290.50"/></g>
<text x="117.60" y="259.00" font-size="2.1" font-weight="normal" text-anchor="end" fill="#555555">1200</text>
<text x="117.60" y="264.38" font-size="2.1" font-weight="normal" text-anchor="end" fill="#555555">1000</text>
<text x="117.60" y="269.77" font-size="2.1" font-weight="normal" text-anchor="end" fill="#555555">800</text>
<text x="117.60" y="275.15" font-size="2.1" font-weight="normal" text-anchor="end" fill="#555555">600</text>
<text x="117.60" y="280.53" font-size="2.1" font-weight="normal" text-anchor="end" fill="#555555">400</text>
<text x="117.60" y="285.92" font-size="2.1" font-weight="normal" text-anchor="end" fill="#555555">200</text>
<text x="117.60" y="291.30" font-size="2.1" font-weight="normal" text-anchor="end" fill="#555555">0</text>
<path d="M140.20,290.50V288.14H141.93V281.86H143.66V274.81H145.39V268.06H147.12V264.33H148.85V262.44H150.58V260.50H152.31V264.29H154.04V268.86H155.77V271.48H157.50V274.10H159.23V276.93H160.96V279.73H162.69V281.46H164.42V283.19H166.15V284.59H167.88V285.76H169.61V286.86H171.34V288.25H173.07V289.57H174.80V290.50Z" fill="#1a6487"/>
<path d="M141.93,288.14V290.50M143.66,281.86V290.50M145.39,274.81V290.50M147.12,268.06V290.50M148.85,264.33V290.50M150.58,262.44V290.50M152.31,264.29V290.50M154.04,268.86V290.50M155.77,271.48V290.50M157.50,274.10V290.50M159.23,276.93V290.50M160.96,279.73V290.50M162.69,281.46V290.50M164.42,283.19V290.50M166.15,284.59V290.50M167.88,285.76V290.50M169.61,286.86V290.50M171.34,288.25V290.50M173.07,289.57V290.50" stroke="#fff" stroke-width="0.3" stroke-opacity="0.3"/>
<text x="120.20" y="297.82" font-size="6.2" font-weight="bold" text-anchor="middle" fill="#111" stroke="#111" stroke-width="0.14">0</text>
<text x="132.40" y="297.82" font-size="6.2" font-weight="bold" text-anchor="middle" fill="#111" stroke="#111" stroke-width="0.14">0.1</text>
<text x="147.20" y="297.82" font-size="6.2" font-weight="bold" text-anchor="middle" fill="#111" stroke="#111" stroke-width="0.14">0.2</text>
<text x="161.80" y="297.82" font-size="6.2" font-weight="bold" text-anchor="middle" fill="#111" stroke="#111" stroke-width="0.14">0.3</text>
<text x="177.40" y="297.82" font-size="6.2" font-weight="bold" text-anchor="middle" fill="#111" stroke="#111" stroke-width="0.14">0.4</text>
<text x="192.90" y="297.82" font-size="6.2" font-weight="bold" text-anchor="middle" fill="#111" stroke="#111" stroke-width="0.14">0.5</text>
<text x="158.40" y="304.90" font-size="6.7" font-weight="bold" text-anchor="middle" fill="#111" stroke="#111" stroke-width="0.14">GC content (0.00-1.00)</text>
<text transform="translate(108.00,277.30) rotate(-90)" font-size="4.6" font-weight="bold" text-anchor="middle" fill="#222" stroke="#222" stroke-width="0.12" dy="1.61">Number of genes (N)</text>
<text x="194.50" y="249.90" font-size="6.5" font-weight="bold" text-anchor="start" fill="#111" stroke="#111" stroke-width="0.14">(w)</text>
<text x="252.00" y="255.60" font-size="3.35" font-weight="normal" text-anchor="middle" fill="#333">Plasmodium ENC histogram</text>
<g stroke="#e4e4e4" stroke-width="0.4"><line x1="213.30" y1="254.50" x2="300.00" y2="254.50"/><line x1="213.30" y1="259.47" x2="300.00" y2="259.47"/><line x1="213.30" y1="264.44" x2="300.00" y2="264.44"/><line x1="213.30" y1="269.41" x2="300.00" y2="269.41"/><line x1="213.30" y1="274.39" x2="300.00" y2="274.39"/><line x1="213.30" y1="279.36" x2="300.00" y2="279.36"/><line x1="213.30" y1="284.33" x2="300.00" y2="284.33"/><line x1="213.30" y1="289.30" x2="300.00" y2="289.30"/></g>
<text x="212.40" y="255.30" font-size="2.1" font-weight="normal" text-anchor="end" fill="#555555">1400</text>
<text x="212.40" y="260.27" font-size="2.1" font-weight="normal" text-anchor="end" fill="#555555">1200</text>
<text x="212.40" y="265.24" font-size="2.1" font-weight="normal" text-anchor="end" fill="#555555">1000</text>
<text x="212.40" y="270.21" font-size="2.1" font-weight="normal" text-anchor="end" fill="#555555">800</text>
<text x="212.40" y="275.19" font-size="2.1" font-weight="normal" text-anchor="end" fill="#555555">600</text>
<text x="212.40" y="280.16" font-size="2.1" font-weight="normal" text-anchor="end" fill="#555555">400</text>
<text x="212.40" y="285.13" font-size="2.1" font-weight="normal" text-anchor="end" fill="#555555">200</text>
<text x="212.40" y="290.10" font-size="2.1" font-weight="normal" text-anchor="end" fill="#555555">0</text>
<path d="M228.00,289.30V288.68H229.61V288.04H231.21V286.99H232.82V285.67H234.43V284.07H236.04V281.44H237.64V277.93H239.25V273.20H240.86V268.28H242.47V264.26H244.07V262.45H245.68V262.77H247.29V265.00H248.90V267.72H250.50V271.78H252.11V275.44H253.72V278.18H255.33V280.49H256.93V282.51H258.54V283.91H260.15V285.03H261.76V285.96H263.36V286.62H264.97V287.26H266.58V287.79H268.19V288.32H269.79V288.77H271.40V289.30Z" fill="#1a6487"/>
<path d="M229.61,288.68V289.30M231.21,288.04V289.30M232.82,286.99V289.30M234.43,285.67V289.30M236.04,284.07V289.30M237.64,281.44V289.30M239.25,277.93V289.30M240.86,273.20V289.30M242.47,268.28V289.30M244.07,264.26V289.30M245.68,262.77V289.30M247.29,265.00V289.30M248.90,267.72V289.30M250.50,271.78V289.30M252.11,275.44V289.30M253.72,278.18V289.30M255.33,280.49V289.30M256.93,282.51V289.30M258.54,283.91V289.30M260.15,285.03V289.30M261.76,285.96V289.30M263.36,286.62V289.30M264.97,287.26V289.30M266.58,287.79V289.30M268.19,288.32V289.30M269.79,288.77V289.30" stroke="#fff" stroke-width="0.3" stroke-opacity="0.3"/>
<text x="217.50" y="296.11" font-size="7.0" font-weight="bold" text-anchor="middle" fill="#111" stroke="#111" stroke-width="0.14">21</text>
<text x="234.80" y="296.11" font-size="7.0" font-weight="bold" text-anchor="middle" fill="#111" stroke="#111" stroke-width="0.14">31</text>
<text x="251.60" y="296.11" font-size="7.0" font-weight="bold" text-anchor="middle" fill="#111" stroke="#111" stroke-width="0.14">41</text>
<text x="268.10" y="296.11" font-size="7.0" font-weight="bold" text-anchor="middle" fill="#111" stroke="#111" stroke-width="0.14">51</text>
<text x="284.90" y="296.11" font-size="7.0" font-weight="bold" text-anchor="middle" fill="#111" stroke="#111" stroke-width="0.14">61</text>
<text x="254.70" y="303.50" font-size="6.7" font-weight="bold" text-anchor="middle" fill="#111" stroke="#111" stroke-width="0.14">ENC level (20-61)</text>
<text transform="translate(204.40,273.30) rotate(-90)" font-size="4.6" font-weight="bold" text-anchor="middle" fill="#222" stroke="#222" stroke-width="0.12" dy="1.61">Number of genes (N)</text>
<text x="292.30" y="249.40" font-size="6.5" font-weight="bold" text-anchor="start" fill="#111" stroke="#111" stroke-width="0.14">(x)</text>
<text x="349.00" y="255.60" font-size="3.35" font-weight="normal" text-anchor="middle" fill="#333">Plasmodium GC rank - ENC rank</text>
<g stroke="#e4e4e4" stroke-width="0.4"><line x1="310.70" y1="259.40" x2="395.00" y2="259.40"/><line x1="310.70" y1="263.95" x2="395.00" y2="263.95"/><line x1="310.70" y1="268.50" x2="395.00" y2="268.50"/><line x1="310.70" y1="273.05" x2="395.00" y2="273.05"/><line x1="310.70" y1="277.60" x2="395.00" y2="277.60"/><line x1="310.70" y1="282.15" x2="395.00" y2="282.15"/><line x1="310.70" y1="286.70" x2="395.00" y2="286.70"/></g>
<text x="309.80" y="260.20" font-size="2.1" font-weight="normal" text-anchor="end" fill="#555555">600</text>
<text x="309.80" y="264.75" font-size="2.1" font-weight="normal" text-anchor="end" fill="#555555">500</text>
<text x="309.80" y="269.30" font-size="2.1" font-weight="normal" text-anchor="end" fill="#555555">400</text>
<text x="309.80" y="273.85" font-size="2.1" font-weight="normal" text-anchor="end" fill="#555555">300</text>
<text x="309.80" y="278.40" font-size="2.1" font-weight="normal" text-anchor="end" fill="#555555">200</text>
<text x="309.80" y="282.95" font-size="2.1" font-weight="normal" text-anchor="end" fill="#555555">100</text>
<text x="309.80" y="287.50" font-size="2.1" font-weight="normal" text-anchor="end" fill="#555555">0</text>
<path d="M310.70,286.70V286.00H313.30V285.60H315.90V284.40H318.50V283.40H321.10V282.30H323.70V280.60H326.30V278.20H328.90V276.50H331.50V274.90H334.10V273.30H336.70V271.60H339.30V270.00H341.90V269.20H344.50V268.40H347.10V265.10H349.70V265.60H352.30V270.80H354.90V274.90H357.50V276.50H360.10V276.20H362.70V278.20H365.30V279.50H367.90V280.60H370.50V282.00H373.10V282.80H375.70V283.60H378.30V284.40H380.90V285.20H383.50V285.60H386.10V286.00H388.70V286.70Z" fill="#1a6487"/>
<path d="M313.30,286.00V286.70M315.90,285.60V286.70M318.50,284.40V286.70M321.10,283.40V286.70M323.70,282.30V286.70M326.30,280.60V286.70M328.90,278.20V286.70M331.50,276.50V286.70M334.10,274.90V286.70M336.70,273.30V286.70M339.30,271.60V286.70M341.90,270.00V286.70M344.50,269.20V286.70M347.10,268.40V286.70M349.70,265.60V286.70M352.30,270.80V286.70M354.90,274.90V286.70M357.50,276.50V286.70M360.10,276.50V286.70M362.70,278.20V286.70M365.30,279.50V286.70M367.90,280.60V286.70M370.50,282.00V286.70M373.10,282.80V286.70M375.70,283.60V286.70M378.30,284.40V286.70M380.90,285.20V286.70M383.50,285.60V286.70M386.10,286.00V286.70" stroke="#fff" stroke-width="0.3" stroke-opacity="0.3"/>
<text x="320.50" y="293.26" font-size="6.6" font-weight="bold" text-anchor="middle" fill="#111" stroke="#111" stroke-width="0.14">-5,000</text>
<text x="347.10" y="293.26" font-size="6.6" font-weight="bold" text-anchor="middle" fill="#111" stroke="#111" stroke-width="0.14">0</text>
<text x="377.10" y="293.26" font-size="6.6" font-weight="bold" text-anchor="middle" fill="#111" stroke="#111" stroke-width="0.14">10,000</text>
<text x="353.80" y="301.70" font-size="6.7" font-weight="bold" text-anchor="middle" fill="#111" stroke="#111" stroke-width="0.14">GC rank - ENC rank</text>
<text transform="translate(301.50,274.20) rotate(-90)" font-size="4.6" font-weight="bold" text-anchor="middle" fill="#222" stroke="#222" stroke-width="0.12" dy="1.61">Number of genes (N)</text>
<text x="388.80" y="250.30" font-size="6.5" font-weight="bold" text-anchor="start" fill="#111" stroke="#111" stroke-width="0.14">(y)</text>
<text x="446.00" y="256.40" font-size="3.35" font-weight="normal" text-anchor="middle" fill="#333">Plasmodium GC rank +ENC rank</text>
<g stroke="#e4e4e4" stroke-width="0.4"><line x1="406.00" y1="260.20" x2="493.00" y2="260.20"/><line x1="406.00" y1="264.73" x2="493.00" y2="264.73"/><line x1="406.00" y1="269.27" x2="493.00" y2="269.27"/><line x1="406.00" y1="273.80" x2="493.00" y2="273.80"/><line x1="406.00" y1="278.33" x2="493.00" y2="278.33"/><line x1="406.00" y1="282.87" x2="493.00" y2="282.87"/><line x1="406.00" y1="287.40" x2="493.00" y2="287.40"/></g>
<text x="405.10" y="261.00" font-size="2.1" font-weight="normal" text-anchor="end" fill="#555555">600</text>
<text x="405.10" y="265.53" font-size="2.1" font-weight="normal" text-anchor="end" fill="#555555">500</text>
<text x="405.10" y="270.07" font-size="2.1" font-weight="normal" text-anchor="end" fill="#555555">400</text>
<text x="405.10" y="274.60" font-size="2.1" font-weight="normal" text-anchor="end" fill="#555555">300</text>
<text x="405.10" y="279.13" font-size="2.1" font-weight="normal" text-anchor="end" fill="#555555">200</text>
<text x="405.10" y="283.67" font-size="2.1" font-weight="normal" text-anchor="end" fill="#555555">100</text>
<text x="405.10" y="288.20" font-size="2.1" font-weight="normal" text-anchor="end" fill="#555555">0</text>
<path d="M407.60,287.40V285.70H411.30V284.50H415.00V283.30H418.70V281.10H422.40V277.30H426.10V275.90H429.80V273.70H433.50V271.70H437.20V270.00H440.90V269.10H444.60V265.20H448.30V269.10H452.00V273.00H455.70V274.70H459.40V277.10H463.10V275.90H466.80V278.50H470.50V279.40H474.20V280.20H477.90V281.10H481.60V283.30H485.30V287.40Z" fill="#1a6487"/>
<path d="M411.30,285.70V287.40M415.00,284.50V287.40M418.70,283.30V287.40M422.40,281.10V287.40M426.10,277.30V287.40M429.80,275.90V287.40M433.50,273.70V287.40M437.20,271.70V287.40M440.90,270.00V287.40M444.60,269.10V287.40M448.30,269.10V287.40M452.00,273.00V287.40M455.70,274.70V287.40M459.40,277.10V287.40M463.10,277.10V287.40M466.80,278.50V287.40M470.50,279.40V287.40M474.20,280.20V287.40M477.90,281.10V287.40M481.60,283.30V287.40" stroke="#fff" stroke-width="0.3" stroke-opacity="0.3"/>
<text x="410.00" y="293.96" font-size="6.6" font-weight="bold" text-anchor="middle" fill="#111" stroke="#111" stroke-width="0.14">0</text>
<text x="444.90" y="293.96" font-size="6.6" font-weight="bold" text-anchor="middle" fill="#111" stroke="#111" stroke-width="0.14">5,000</text>
<text x="478.60" y="293.96" font-size="6.6" font-weight="bold" text-anchor="middle" fill="#111" stroke="#111" stroke-width="0.14">10,000</text>
<text x="449.20" y="300.90" font-size="6.7" font-weight="bold" text-anchor="middle" fill="#111" stroke="#111" stroke-width="0.14">GC rank + ENC rank</text>
<text transform="translate(398.00,275.60) rotate(-90)" font-size="4.6" font-weight="bold" text-anchor="middle" fill="#222" stroke="#222" stroke-width="0.12" dy="1.61">Number of genes (N)</text>
<defs>
<linearGradient id="wbg" x1="0" y1="0" x2="1" y2="1"><stop offset="0" stop-color="#e6dbc8"/><stop offset="0.5" stop-color="#dbcdb5"/><stop offset="1" stop-color="#e8dfcf"/></linearGradient>
<radialGradient id="rbg" cx="0.62" cy="0.5" r="0.75"><stop offset="0" stop-color="#e8e4e4"/><stop offset="0.5" stop-color="#d6cfcf"/><stop offset="1" stop-color="#b49c9c"/></radialGradient><linearGradient id="rl" x1="0" y1="0" x2="1" y2="0"><stop offset="0" stop-color="#a85a5a" stop-opacity="0.45"/><stop offset="1" stop-color="#a85a5a" stop-opacity="0"/></linearGradient>
<linearGradient id="abg" x1="0" y1="0" x2="0.3" y2="1"><stop offset="0" stop-color="#e6ebf2"/><stop offset="0.6" stop-color="#f1f4f8"/><stop offset="1" stop-color="#fbfcfd"/></linearGradient>
<radialGradient id="sbg" cx="0.5" cy="0.5" r="0.7"><stop offset="0" stop-color="#26272d"/><stop offset="1" stop-color="#1c1d22"/></radialGradient>
<clipPath id="cw"><rect x="500.2" y="13" width="43.8" height="40.6"/></clipPath>
<clipPath id="cr"><rect x="501" y="69.8" width="43.2" height="34.2"/></clipPath>
<clipPath id="cs"><rect x="500.9" y="134" width="42.4" height="42.8"/></clipPath>
<clipPath id="ca"><rect x="501" y="193" width="43.5" height="41"/></clipPath>
<clipPath id="cp"><rect x="501.6" y="259.2" width="45.5" height="42.6"/></clipPath>
</defs>
<text x="500.5" y="7.2" font-size="8.4" font-weight="bold" fill="#111" textLength="22.5" lengthAdjust="spacingAndGlyphs">Wasp</text>
<g clip-path="url(#cw)">
<rect x="500.2" y="13" width="43.8" height="40.6" fill="url(#wbg)"/>
<circle cx="519.9" cy="36.0" r="0.8" fill="#f0e7d8" opacity="0.8"/><circle cx="537.6" cy="20.8" r="0.8" fill="#d8c7aa" opacity="0.8"/><circle cx="527.0" cy="20.6" r="0.6" fill="#f0e7d8" opacity="0.8"/><circle cx="504.0" cy="46.2" r="0.9" fill="#cbb99d" opacity="0.8"/><circle cx="517.4" cy="31.6" r="0.9" fill="#d8c7aa" opacity="0.8"/><circle cx="527.4" cy="47.1" r="0.4" fill="#cbb99d" opacity="0.8"/><circle cx="508.4" cy="22.9" r="1.0" fill="#cbb99d" opacity="0.8"/><circle cx="514.4" cy="37.2" r="0.8" fill="#f2ebdf" opacity="0.8"/><circle cx="528.2" cy="33.5" r="0.8" fill="#cbb99d" opacity="0.8"/><circle cx="512.2" cy="53.9" r="1.0" fill="#cbb99d" opacity="0.8"/><circle cx="513.9" cy="22.4" r="0.4" fill="#c6b393" opacity="0.8"/><circle cx="524.8" cy="17.4" r="1.1" fill="#cbb99d" opacity="0.8"/><circle cx="517.0" cy="52.3" r="0.6" fill="#cbb99d" opacity="0.8"/><circle cx="540.8" cy="15.1" r="1.2" fill="#f0e7d8" opacity="0.8"/><circle cx="517.5" cy="16.0" r="1.0" fill="#f2ebdf" opacity="0.8"/><circle cx="511.9" cy="16.6" r="0.4" fill="#c6b393" opacity="0.8"/><circle cx="518.0" cy="50.8" r="0.6" fill="#f2ebdf" opacity="0.8"/><circle cx="504.4" cy="15.5" r="0.5" fill="#f0e7d8" opacity="0.8"/><circle cx="524.6" cy="31.3" r="1.2" fill="#f2ebdf" opacity="0.8"/><circle cx="533.9" cy="30.2" r="0.5" fill="#f0e7d8" opacity="0.8"/><circle cx="518.5" cy="21.7" r="1.1" fill="#c6b393" opacity="0.8"/><circle cx="542.9" cy="37.3" r="0.6" fill="#cbb99d" opacity="0.8"/><circle cx="517.3" cy="48.0" r="0.5" fill="#d8c7aa" opacity="0.8"/><circle cx="543.5" cy="21.7" r="0.4" fill="#c6b393" opacity="0.8"/><circle cx="526.9" cy="47.0" r="0.5" fill="#f0e7d8" opacity="0.8"/><circle cx="504.0" cy="36.9" r="0.4" fill="#f2ebdf" opacity="0.8"/><circle cx="516.2" cy="38.5" r="1.2" fill="#f2ebdf" opacity="0.8"/><circle cx="521.3" cy="36.6" r="0.5" fill="#f0e7d8" opacity="0.8"/><circle cx="506.8" cy="50.2" r="0.6" fill="#d8c7aa" opacity="0.8"/><circle cx="508.4" cy="43.3" r="0.6" fill="#d8c7aa" opacity="0.8"/><circle cx="541.8" cy="49.2" r="0.5" fill="#d8c7aa" opacity="0.8"/><circle cx="502.1" cy="17.5" r="1.2" fill="#d8c7aa" opacity="0.8"/><circle cx="510.5" cy="41.9" r="0.7" fill="#c6b393" opacity="0.8"/><circle cx="539.8" cy="33.1" r="0.5" fill="#d8c7aa" opacity="0.8"/><circle cx="531.7" cy="15.8" r="0.8" fill="#f2ebdf" opacity="0.8"/><circle cx="528.8" cy="38.3" r="0.6" fill="#cbb99d" opacity="0.8"/><circle cx="540.4" cy="21.4" r="0.5" fill="#cbb99d" opacity="0.8"/><circle cx="518.1" cy="23.2" r="0.5" fill="#cbb99d" opacity="0.8"/><circle cx="516.2" cy="36.5" r="0.5" fill="#f2ebdf" opacity="0.8"/><circle cx="506.1" cy="31.5" r="0.9" fill="#c6b393" opacity="0.8"/><circle cx="530.4" cy="37.0" r="0.9" fill="#f2ebdf" opacity="0.8"/><circle cx="540.6" cy="32.5" r="1.0" fill="#c6b393" opacity="0.8"/><circle cx="542.4" cy="13.9" r="0.8" fill="#cbb99d" opacity="0.8"/><circle cx="532.1" cy="26.1" r="0.5" fill="#cbb99d" opacity="0.8"/><circle cx="524.0" cy="43.2" r="1.0" fill="#f2ebdf" opacity="0.8"/><circle cx="540.3" cy="27.4" r="1.1" fill="#f0e7d8" opacity="0.8"/><circle cx="538.3" cy="30.1" r="1.1" fill="#cbb99d" opacity="0.8"/><circle cx="525.2" cy="38.6" r="0.7" fill="#f0e7d8" opacity="0.8"/><circle cx="500.5" cy="16.0" r="0.9" fill="#cbb99d" opacity="0.8"/><circle cx="543.7" cy="49.1" r="0.7" fill="#c6b393" opacity="0.8"/><circle cx="532.3" cy="36.8" r="0.8" fill="#f0e7d8" opacity="0.8"/><circle cx="523.8" cy="34.3" r="0.4" fill="#d8c7aa" opacity="0.8"/><circle cx="526.5" cy="32.7" r="1.2" fill="#f2ebdf" opacity="0.8"/><circle cx="505.0" cy="45.0" r="0.6" fill="#f0e7d8" opacity="0.8"/><circle cx="500.5" cy="25.3" r="0.6" fill="#d8c7aa" opacity="0.8"/><circle cx="507.5" cy="50.1" r="0.8" fill="#f0e7d8" opacity="0.8"/><circle cx="510.6" cy="29.6" r="0.6" fill="#c6b393" opacity="0.8"/><circle cx="519.0" cy="46.0" r="1.1" fill="#f2ebdf" opacity="0.8"/><circle cx="516.9" cy="36.9" r="0.6" fill="#c6b393" opacity="0.8"/><circle cx="505.9" cy="27.4" r="1.0" fill="#cbb99d" opacity="0.8"/><circle cx="541.8" cy="24.3" r="0.5" fill="#f2ebdf" opacity="0.8"/><circle cx="520.7" cy="51.0" r="0.7" fill="#f0e7d8" opacity="0.8"/><circle cx="522.9" cy="40.6" r="0.8" fill="#d8c7aa" opacity="0.8"/><circle cx="503.3" cy="14.3" r="0.4" fill="#d8c7aa" opacity="0.8"/><circle cx="531.2" cy="36.4" r="0.9" fill="#c6b393" opacity="0.8"/><circle cx="524.8" cy="39.3" r="0.8" fill="#f0e7d8" opacity="0.8"/><circle cx="501.1" cy="47.0" r="1.0" fill="#f2ebdf" opacity="0.8"/><circle cx="535.1" cy="53.3" r="0.8" fill="#cbb99d" opacity="0.8"/><circle cx="527.7" cy="39.9" r="1.2" fill="#c6b393" opacity="0.8"/><circle cx="530.1" cy="21.2" r="0.6" fill="#f0e7d8" opacity="0.8"/><circle cx="531.4" cy="44.0" r="1.0" fill="#d8c7aa" opacity="0.8"/><circle cx="507.9" cy="24.2" r="0.8" fill="#c6b393" opacity="0.8"/><circle cx="541.7" cy="33.5" r="0.7" fill="#f2ebdf" opacity="0.8"/><circle cx="534.8" cy="50.2" r="0.7" fill="#cbb99d" opacity="0.8"/><circle cx="539.3" cy="28.9" r="0.8" fill="#f0e7d8" opacity="0.8"/><circle cx="527.5" cy="50.3" r="0.8" fill="#f0e7d8" opacity="0.8"/><circle cx="528.7" cy="33.6" r="0.8" fill="#c6b393" opacity="0.8"/><circle cx="528.7" cy="21.4" r="0.6" fill="#cbb99d" opacity="0.8"/><circle cx="539.6" cy="53.2" r="0.8" fill="#c6b393" opacity="0.8"/><circle cx="534.8" cy="26.1" r="0.7" fill="#cbb99d" opacity="0.8"/><circle cx="503.6" cy="31.1" r="0.7" fill="#d8c7aa" opacity="0.8"/><circle cx="512.1" cy="50.7" r="1.0" fill="#f2ebdf" opacity="0.8"/><circle cx="502.8" cy="45.8" r="0.8" fill="#f2ebdf" opacity="0.8"/><circle cx="530.2" cy="50.6" r="0.5" fill="#f0e7d8" opacity="0.8"/><circle cx="522.7" cy="42.7" r="1.2" fill="#f0e7d8" opacity="0.8"/><circle cx="521.7" cy="51.9" r="1.0" fill="#cbb99d" opacity="0.8"/><circle cx="519.3" cy="35.9" r="0.9" fill="#d8c7aa" opacity="0.8"/><circle cx="523.0" cy="47.6" r="0.6" fill="#d8c7aa" opacity="0.8"/><circle cx="529.5" cy="52.1" r="0.6" fill="#d8c7aa" opacity="0.8"/><circle cx="537.4" cy="52.7" r="0.6" fill="#d8c7aa" opacity="0.8"/><circle cx="521.9" cy="29.9" r="0.8" fill="#cbb99d" opacity="0.8"/><circle cx="526.6" cy="14.1" r="0.8" fill="#cbb99d" opacity="0.8"/><circle cx="517.6" cy="45.8" r="0.5" fill="#d8c7aa" opacity="0.8"/><circle cx="504.1" cy="19.8" r="0.8" fill="#d8c7aa" opacity="0.8"/><circle cx="540.5" cy="45.8" r="0.6" fill="#f0e7d8" opacity="0.8"/><circle cx="520.8" cy="18.2" r="1.1" fill="#f0e7d8" opacity="0.8"/><circle cx="541.2" cy="50.7" r="0.7" fill="#d8c7aa" opacity="0.8"/><circle cx="508.4" cy="38.3" r="0.5" fill="#c6b393" opacity="0.8"/><circle cx="534.3" cy="13.9" r="0.5" fill="#f2ebdf" opacity="0.8"/><circle cx="500.5" cy="24.6" r="0.6" fill="#c6b393" opacity="0.8"/><circle cx="521.9" cy="33.5" r="0.5" fill="#d8c7aa" opacity="0.8"/><circle cx="522.5" cy="23.3" r="1.0" fill="#f2ebdf" opacity="0.8"/><circle cx="538.7" cy="14.0" r="1.1" fill="#f0e7d8" opacity="0.8"/><circle cx="527.1" cy="35.1" r="0.9" fill="#d8c7aa" opacity="0.8"/><circle cx="523.3" cy="47.9" r="0.9" fill="#d8c7aa" opacity="0.8"/><circle cx="506.0" cy="50.5" r="1.1" fill="#c6b393" opacity="0.8"/><circle cx="513.9" cy="25.9" r="0.6" fill="#f2ebdf" opacity="0.8"/><circle cx="543.9" cy="49.4" r="1.1" fill="#f2ebdf" opacity="0.8"/><circle cx="505.8" cy="16.6" r="0.5" fill="#f0e7d8" opacity="0.8"/><circle cx="536.6" cy="30.3" r="0.6" fill="#f2ebdf" opacity="0.8"/><circle cx="527.6" cy="45.8" r="0.6" fill="#cbb99d" opacity="0.8"/><circle cx="530.0" cy="50.4" r="0.5" fill="#c6b393" opacity="0.8"/><circle cx="522.2" cy="44.1" r="1.2" fill="#d8c7aa" opacity="0.8"/><circle cx="536.6" cy="45.9" r="0.5" fill="#f0e7d8" opacity="0.8"/><circle cx="501.6" cy="35.6" r="1.1" fill="#d8c7aa" opacity="0.8"/><circle cx="521.2" cy="20.8" r="0.6" fill="#cbb99d" opacity="0.8"/><circle cx="537.0" cy="53.6" r="0.9" fill="#cbb99d" opacity="0.8"/><circle cx="505.9" cy="40.9" r="1.0" fill="#cbb99d" opacity="0.8"/><circle cx="514.4" cy="32.1" r="0.7" fill="#d8c7aa" opacity="0.8"/><circle cx="509.2" cy="28.3" r="1.1" fill="#cbb99d" opacity="0.8"/><circle cx="508.0" cy="31.6" r="0.7" fill="#c6b393" opacity="0.8"/><circle cx="508.6" cy="19.8" r="1.0" fill="#d8c7aa" opacity="0.8"/><circle cx="514.2" cy="16.5" r="0.9" fill="#f0e7d8" opacity="0.8"/><circle cx="508.4" cy="37.0" r="1.0" fill="#c6b393" opacity="0.8"/><circle cx="511.4" cy="50.4" r="1.1" fill="#f2ebdf" opacity="0.8"/><circle cx="517.8" cy="49.8" r="1.0" fill="#d8c7aa" opacity="0.8"/><circle cx="533.8" cy="44.4" r="0.6" fill="#f0e7d8" opacity="0.8"/><circle cx="508.1" cy="45.7" r="0.8" fill="#c6b393" opacity="0.8"/><circle cx="500.5" cy="27.6" r="0.4" fill="#d8c7aa" opacity="0.8"/><circle cx="512.0" cy="52.4" r="0.7" fill="#c6b393" opacity="0.8"/><circle cx="529.0" cy="36.4" r="0.5" fill="#d8c7aa" opacity="0.8"/><circle cx="522.6" cy="33.4" r="1.0" fill="#f2ebdf" opacity="0.8"/><circle cx="533.5" cy="53.2" r="0.5" fill="#cbb99d" opacity="0.8"/><circle cx="504.8" cy="22.7" r="0.7" fill="#f0e7d8" opacity="0.8"/><circle cx="502.2" cy="21.0" r="0.4" fill="#f0e7d8" opacity="0.8"/><circle cx="511.4" cy="24.3" r="0.8" fill="#c6b393" opacity="0.8"/><circle cx="522.3" cy="52.7" r="1.1" fill="#d8c7aa" opacity="0.8"/><circle cx="504.4" cy="31.2" r="0.8" fill="#cbb99d" opacity="0.8"/><circle cx="529.4" cy="52.2" r="1.1" fill="#f0e7d8" opacity="0.8"/><circle cx="507.0" cy="32.3" r="1.1" fill="#f2ebdf" opacity="0.8"/><circle cx="523.8" cy="37.5" r="1.2" fill="#f0e7d8" opacity="0.8"/><circle cx="518.5" cy="34.6" r="0.6" fill="#d8c7aa" opacity="0.8"/><circle cx="523.3" cy="32.8" r="0.8" fill="#c6b393" opacity="0.8"/><circle cx="512.5" cy="42.4" r="0.4" fill="#c6b393" opacity="0.8"/><circle cx="534.0" cy="37.0" r="0.7" fill="#f2ebdf" opacity="0.8"/><circle cx="530.1" cy="15.2" r="1.0" fill="#c6b393" opacity="0.8"/><circle cx="502.2" cy="53.5" r="0.5" fill="#c6b393" opacity="0.8"/><circle cx="539.8" cy="30.6" r="0.6" fill="#f0e7d8" opacity="0.8"/><circle cx="533.2" cy="14.9" r="1.1" fill="#cbb99d" opacity="0.8"/><circle cx="531.8" cy="32.2" r="0.9" fill="#f2ebdf" opacity="0.8"/><circle cx="505.1" cy="38.6" r="0.5" fill="#f0e7d8" opacity="0.8"/><circle cx="537.9" cy="27.6" r="0.5" fill="#f2ebdf" opacity="0.8"/><circle cx="519.5" cy="40.4" r="0.9" fill="#f0e7d8" opacity="0.8"/><circle cx="528.1" cy="41.0" r="1.0" fill="#c6b393" opacity="0.8"/><circle cx="523.4" cy="53.9" r="1.0" fill="#c6b393" opacity="0.8"/><circle cx="510.5" cy="17.7" r="1.0" fill="#c6b393" opacity="0.8"/><circle cx="527.5" cy="27.7" r="0.9" fill="#c6b393" opacity="0.8"/><circle cx="531.9" cy="41.7" r="0.9" fill="#f2ebdf" opacity="0.8"/><circle cx="533.1" cy="20.8" r="0.8" fill="#f2ebdf" opacity="0.8"/><circle cx="528.7" cy="21.0" r="0.9" fill="#cbb99d" opacity="0.8"/>
<path d="M518,22.5 Q531,24 543.8,28.8 L543.8,34.5 Q531,31 519,28 Z" fill="#7a4426" opacity="0.8"/>
<path d="M521,29 Q532,33 543.8,37 L543.8,40 Q532,36.5 522,32.5 Z" fill="#9a6a4a" opacity="0.4"/>
<path d="M510.5,22 Q506.5,19.5 503.2,18" stroke="#241510" stroke-width="0.8" fill="none"/>
<path d="M513.3,21.5 Q514.5,17.5 515.8,13.8" stroke="#3a2414" stroke-width="0.8" fill="none"/>
<g stroke="#b8703c" stroke-width="1.0" fill="none" stroke-linecap="round"><path d="M512,27.5 L508.5,29.2 L505,29.8"/><path d="M517,34 L515,40 L512.5,46.5"/><path d="M521.6,26 L521.8,19 L521.6,13"/></g>
<path d="M520,36 L529,45 L538.6,52.6" stroke="#5e3119" stroke-width="1.5" fill="none" stroke-linecap="round"/>
<ellipse cx="512.2" cy="24.4" rx="3.3" ry="3" fill="#21140e"/>
<ellipse cx="519.4" cy="29.6" rx="6" ry="4.2" transform="rotate(40 519.4 29.6)" fill="#1d120c"/>
<ellipse cx="531.4" cy="38.6" rx="9.6" ry="4.3" transform="rotate(35 531.4 38.6)" fill="#22150e"/>
<g stroke="#b5682c" stroke-width="0.9"><line x1="527" y1="38.6" x2="530.2" y2="33.6"/><line x1="531.6" y1="41.8" x2="534.8" y2="36.8"/><line x1="536" y1="44.6" x2="538.6" y2="40.4"/></g>
<ellipse cx="524.5" cy="33.5" rx="2.4" ry="2" fill="#6a3418"/>
</g>
<text x="501" y="64.5" font-size="8.6" font-weight="bold" fill="#111" textLength="40.8" lengthAdjust="spacingAndGlyphs">Rickettsia</text>
<g clip-path="url(#cr)">
<rect x="501" y="69.8" width="43.2" height="34.2" fill="url(#rbg)"/>
<rect x="501" y="69.8" width="10" height="34.2" fill="url(#rl)"/>
<line x1="502.6" y1="73.6" x2="506.8" y2="76.6" stroke="#c04848" stroke-width="2.8" stroke-linecap="round" opacity="0.55"/>
<line x1="502.6" y1="73.6" x2="506.8" y2="76.6" stroke="#820c0c" stroke-width="1.26" stroke-linecap="round" opacity="0.33"/>
<line x1="508.6" y1="74.2" x2="512.8" y2="76.6" stroke="#c04848" stroke-width="2.8" stroke-linecap="round" opacity="0.6"/>
<line x1="508.6" y1="74.2" x2="512.8" y2="76.6" stroke="#820c0c" stroke-width="1.26" stroke-linecap="round" opacity="0.36"/>
<line x1="501.4" y1="86.4" x2="504.5" y2="88.5" stroke="#c04848" stroke-width="2.8" stroke-linecap="round" opacity="0.5"/>
<line x1="501.4" y1="86.4" x2="504.5" y2="88.5" stroke="#820c0c" stroke-width="1.26" stroke-linecap="round" opacity="0.3"/>
<line x1="501.4" y1="92" x2="503.5" y2="94" stroke="#c04848" stroke-width="2.4" stroke-linecap="round" opacity="0.45"/>
<line x1="501.4" y1="92" x2="503.5" y2="94" stroke="#820c0c" stroke-width="1.08" stroke-linecap="round" opacity="0.27"/>
<line x1="501.6" y1="100" x2="504" y2="101.6" stroke="#c04848" stroke-width="2.4" stroke-linecap="round" opacity="0.45"/>
<line x1="501.6" y1="100" x2="504" y2="101.6" stroke="#820c0c" stroke-width="1.08" stroke-linecap="round" opacity="0.27"/>
<line x1="505" y1="81" x2="507" y2="82.5" stroke="#c04848" stroke-width="2.0" stroke-linecap="round" opacity="0.35"/>
<line x1="505" y1="81" x2="507" y2="82.5" stroke="#820c0c" stroke-width="0.9" stroke-linecap="round" opacity="0.21"/>
<line x1="512.5" y1="82.2" x2="526.5" y2="74.3" stroke="#c92626" stroke-width="3.9" stroke-linecap="round" opacity="1"/>
<line x1="512.5" y1="82.2" x2="526.5" y2="74.3" stroke="#820c0c" stroke-width="1.755" stroke-linecap="round" opacity="0.6"/>
<line x1="509.5" y1="93.6" x2="520.6" y2="98.9" stroke="#c92626" stroke-width="4.1" stroke-linecap="round" opacity="1"/>
<line x1="509.5" y1="93.6" x2="520.6" y2="98.9" stroke="#820c0c" stroke-width="1.845" stroke-linecap="round" opacity="0.6"/>
<line x1="523.3" y1="90.3" x2="530" y2="82.6" stroke="#c92626" stroke-width="4.5" stroke-linecap="round" opacity="1"/>
<line x1="523.3" y1="90.3" x2="530" y2="82.6" stroke="#820c0c" stroke-width="2.025" stroke-linecap="round" opacity="0.6"/>
<line x1="532.4" y1="92" x2="538.4" y2="99.8" stroke="#c92626" stroke-width="4.4" stroke-linecap="round" opacity="1"/>
<line x1="532.4" y1="92" x2="538.4" y2="99.8" stroke="#820c0c" stroke-width="1.9800000000000002" stroke-linecap="round" opacity="0.6"/>
<line x1="534.8" y1="86.6" x2="542.4" y2="90.6" stroke="#c92626" stroke-width="3.9" stroke-linecap="round" opacity="1"/>
<line x1="534.8" y1="86.6" x2="542.4" y2="90.6" stroke="#820c0c" stroke-width="1.755" stroke-linecap="round" opacity="0.6"/>
<line x1="540.4" y1="77.2" x2="543.4" y2="74.8" stroke="#c92626" stroke-width="3.5" stroke-linecap="round" opacity="1"/>
<line x1="540.4" y1="77.2" x2="543.4" y2="74.8" stroke="#820c0c" stroke-width="1.575" stroke-linecap="round" opacity="0.6"/>
</g>
<text x="500.5" y="127.5" font-size="8.1" font-weight="bold" fill="#111" textLength="43.5" lengthAdjust="spacingAndGlyphs">Slime mold</text>
<g clip-path="url(#cs)">
<rect x="500.9" y="134" width="42.4" height="42.8" fill="url(#sbg)"/>
<path d="M522,142 Q524.3,151 525,160.5 Q525.7,169.5 526.6,177" stroke="#c4a494" stroke-width="0.75" fill="none"/>
<circle cx="521" cy="139.2" r="3.2" fill="#b98a5e"/>
<circle cx="520.7" cy="139" r="1.8" fill="#8a5c3a"/>
</g>
<text x="501.5" y="187.7" font-size="7.5" font-weight="bold" fill="#111" textLength="43.5" lengthAdjust="spacingAndGlyphs">Arabidopsis</text>
<g clip-path="url(#ca)">
<rect x="501" y="193" width="43.5" height="41" fill="url(#abg)"/>
<path d="M522.4,221 Q521.6,210 521.4,200" stroke="#86c860" stroke-width="0.9" fill="none"/>
<ellipse cx="518.8" cy="204.2" rx="2.8" ry="0.8" transform="rotate(-42 518.8 204.2)" fill="#7cc850"/>
<ellipse cx="524.2" cy="205.6" rx="2.0" ry="0.7" transform="rotate(18 524.2 205.6)" fill="#70bc46"/>
<ellipse cx="521.0" cy="200.3" rx="1.2" ry="1.0" transform="rotate(0 521.0 200.3)" fill="#8cd060"/>
<ellipse cx="515.6" cy="213.8" rx="6.6" ry="2.6" transform="rotate(38 515.6 213.8)" fill="#6cbf3e"/>
<ellipse cx="525.6" cy="213.2" rx="2.8" ry="1.5" transform="rotate(-25 525.6 213.2)" fill="#6cbf3e"/>
<ellipse cx="511.6" cy="224.6" rx="8.4" ry="2.3" transform="rotate(-22 511.6 224.6)" fill="#5aab30"/>
<ellipse cx="533.6" cy="222.4" rx="9.8" ry="2.3" transform="rotate(4 533.6 222.4)" fill="#6cbf3e"/>
<ellipse cx="529" cy="226.6" rx="3.6" ry="1.7" transform="rotate(30 529 226.6)" fill="#6cbf3e"/>
<ellipse cx="521.6" cy="226.2" rx="2.4" ry="1.9" transform="rotate(70 521.6 226.2)" fill="#5aab30"/>
<ellipse cx="521.8" cy="222.6" rx="2.6" ry="1.6" transform="rotate(0 521.8 222.6)" fill="#5aab30"/>
<ellipse cx="518.5" cy="220.5" rx="2.2" ry="1.2" transform="rotate(-30 518.5 220.5)" fill="#6cbf3e"/>
</g>
<text x="501.8" y="252" font-size="7.3" font-weight="bold" fill="#111" textLength="43.2" lengthAdjust="spacingAndGlyphs">Plasmodium</text>
<g clip-path="url(#cp)">
<rect x="501.6" y="259.2" width="45.5" height="42.6" fill="#d8d9f5"/>
<g><circle cx="506.5" cy="261" r="1.85" fill="#c8c0ef" stroke="#7f66d2" stroke-opacity="0.89" stroke-width="1.4"/><circle cx="514.5" cy="263.7" r="1.85" fill="#c8c0ef" stroke="#7f66d2" stroke-opacity="0.92" stroke-width="1.4"/><circle cx="526" cy="261.8" r="1.85" fill="#c8c0ef" stroke="#7f66d2" stroke-opacity="0.94" stroke-width="1.4"/><circle cx="537" cy="261.8" r="1.85" fill="#c8c0ef" stroke="#7f66d2" stroke-opacity="0.98" stroke-width="1.4"/><circle cx="546.5" cy="261.9" r="1.85" fill="#c8c0ef" stroke="#7f66d2" stroke-opacity="0.92" stroke-width="1.4"/><circle cx="514.2" cy="268.7" r="1.85" fill="#c8c0ef" stroke="#7f66d2" stroke-opacity="0.98" stroke-width="1.4"/><circle cx="519.1" cy="270.6" r="1.85" fill="#c8c0ef" stroke="#7f66d2" stroke-opacity="0.71" stroke-width="1.4"/><circle cx="524.5" cy="271.4" r="1.85" fill="#c8c0ef" stroke="#7f66d2" stroke-opacity="0.84" stroke-width="1.4"/><circle cx="535.2" cy="269.5" r="1.85" fill="#c8c0ef" stroke="#7f66d2" stroke-opacity="0.98" stroke-width="1.4"/><circle cx="543.9" cy="268.7" r="1.85" fill="#c8c0ef" stroke="#7f66d2" stroke-opacity="0.89" stroke-width="1.4"/><circle cx="506.5" cy="271" r="1.85" fill="#c8c0ef" stroke="#7f66d2" stroke-opacity="0.97" stroke-width="1.4"/><circle cx="502.7" cy="270.8" r="1.85" fill="#c8c0ef" stroke="#7f66d2" stroke-opacity="0.73" stroke-width="1.4"/><circle cx="511.5" cy="274" r="1.85" fill="#c8c0ef" stroke="#7f66d2" stroke-opacity="0.84" stroke-width="1.4"/><circle cx="502.7" cy="276.1" r="1.85" fill="#c8c0ef" stroke="#7f66d2" stroke-opacity="0.77" stroke-width="1.4"/><circle cx="534" cy="275.2" r="1.85" fill="#c8c0ef" stroke="#7f66d2" stroke-opacity="0.55" stroke-width="1.4"/><circle cx="539" cy="276.3" r="1.3" fill="#c8c0ef" stroke="#7f66d2" stroke-opacity="0.55" stroke-width="1.4"/><circle cx="543.2" cy="274.4" r="1.85" fill="#c8c0ef" stroke="#7f66d2" stroke-opacity="0.86" stroke-width="1.4"/><circle cx="513.4" cy="279.4" r="1.85" fill="#c8c0ef" stroke="#7f66d2" stroke-opacity="0.87" stroke-width="1.4"/><circle cx="530.2" cy="280.5" r="1.85" fill="#c8c0ef" stroke="#7f66d2" stroke-opacity="0.70" stroke-width="1.4"/><circle cx="536.3" cy="280.1" r="1.85" fill="#c8c0ef" stroke="#7f66d2" stroke-opacity="0.77" stroke-width="1.4"/><circle cx="543.9" cy="279" r="1.85" fill="#c8c0ef" stroke="#7f66d2" stroke-opacity="0.78" stroke-width="1.4"/><circle cx="510" cy="283.9" r="1.85" fill="#c8c0ef" stroke="#7f66d2" stroke-opacity="0.97" stroke-width="1.4"/><circle cx="514" cy="286.5" r="1.85" fill="#c8c0ef" stroke="#7f66d2" stroke-opacity="0.93" stroke-width="1.4"/><circle cx="519.6" cy="286.1" r="1.85" fill="#c8c0ef" stroke="#7f66d2" stroke-opacity="0.75" stroke-width="1.4"/><circle cx="524.9" cy="284.4" r="1.85" fill="#c8c0ef" stroke="#7f66d2" stroke-opacity="0.94" stroke-width="1.4"/><circle cx="531.8" cy="286.1" r="1.85" fill="#c8c0ef" stroke="#7f66d2" stroke-opacity="0.74" stroke-width="1.4"/><circle cx="545" cy="284.4" r="1.85" fill="#c8c0ef" stroke="#7f66d2" stroke-opacity="0.89" stroke-width="1.4"/><circle cx="524.2" cy="283.8" r="1.85" fill="#c8c0ef" stroke="#7f66d2" stroke-opacity="0.74" stroke-width="1.4"/><circle cx="502.6" cy="286.5" r="1.85" fill="#c8c0ef" stroke="#7f66d2" stroke-opacity="0.70" stroke-width="1.4"/><circle cx="510" cy="290" r="1.85" fill="#c8c0ef" stroke="#7f66d2" stroke-opacity="0.96" stroke-width="1.4"/><circle cx="525.7" cy="290" r="1.85" fill="#c8c0ef" stroke="#7f66d2" stroke-opacity="0.76" stroke-width="1.4"/><circle cx="505.2" cy="293.5" r="1.85" fill="#c8c0ef" stroke="#7f66d2" stroke-opacity="0.76" stroke-width="1.4"/><circle cx="529.7" cy="294" r="1.85" fill="#c8c0ef" stroke="#7f66d2" stroke-opacity="0.99" stroke-width="1.4"/><circle cx="535.8" cy="296.1" r="1.85" fill="#c8c0ef" stroke="#7f66d2" stroke-opacity="0.96" stroke-width="1.4"/><circle cx="545" cy="290.9" r="1.85" fill="#c8c0ef" stroke="#7f66d2" stroke-opacity="0.79" stroke-width="1.4"/><circle cx="503.9" cy="298.8" r="1.85" fill="#c8c0ef" stroke="#7f66d2" stroke-opacity="0.99" stroke-width="1.4"/><circle cx="507.4" cy="298.3" r="1.85" fill="#c8c0ef" stroke="#7f66d2" stroke-opacity="0.86" stroke-width="1.4"/><circle cx="512.2" cy="300.1" r="1.85" fill="#c8c0ef" stroke="#7f66d2" stroke-opacity="0.90" stroke-width="1.4"/><circle cx="517.9" cy="298.3" r="1.85" fill="#c8c0ef" stroke="#7f66d2" stroke-opacity="0.76" stroke-width="1.4"/><circle cx="523.1" cy="299.2" r="1.85" fill="#c8c0ef" stroke="#7f66d2" stroke-opacity="0.98" stroke-width="1.4"/><circle cx="541.9" cy="298.8" r="1.85" fill="#c8c0ef" stroke="#7f66d2" stroke-opacity="0.91" stroke-width="1.4"/></g>
<path d="M519.6,278 Q522.8,277.6 525.2,275.2" stroke="#4e0f60" stroke-width="2.3" stroke-linecap="round" fill="none"/>
<path d="M539.8,281.9 Q541.8,282.6 543.2,284.2" stroke="#5a1468" stroke-width="1.8" stroke-linecap="round" fill="none"/>
</g>
</svg>
</body></html>
